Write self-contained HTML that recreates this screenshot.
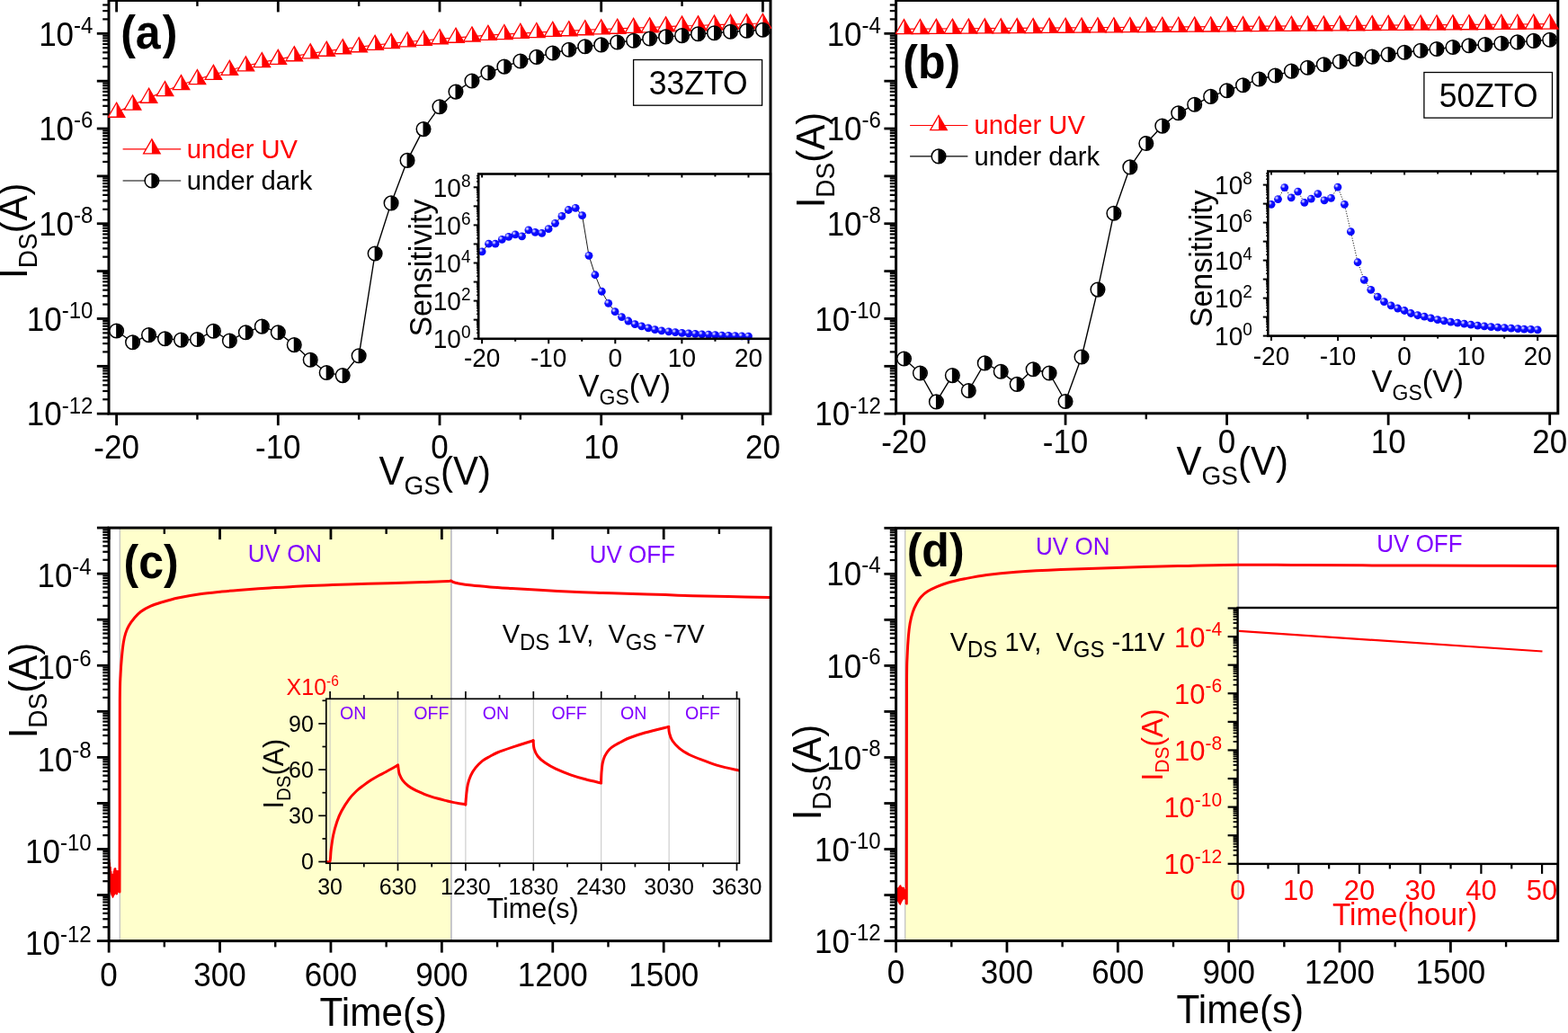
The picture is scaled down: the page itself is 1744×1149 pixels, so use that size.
<!DOCTYPE html><html><head><meta charset="utf-8"><title>Figure</title><style>html,body{margin:0;padding:0;background:#fff;}svg{display:block;font-family:"Liberation Sans",Arial,Helvetica,sans-serif;}</style></head><body>
<svg width="1744" height="1149" viewBox="0 0 1744 1149">
<defs><radialGradient id="bg" cx="0.33" cy="0.33" r="0.85"><stop offset="0" stop-color="#e4e4ff"/><stop offset="0.14" stop-color="#a0a0ff"/><stop offset="0.32" stop-color="#1010ff"/><stop offset="1" stop-color="#0000f8"/></radialGradient><clipPath id="clipA"><rect x="120" y="0" width="738" height="461"/></clipPath><clipPath id="clipB"><rect x="996" y="0" width="738" height="461"/></clipPath><clipPath id="clipC"><rect x="120" y="586" width="738" height="461"/></clipPath><clipPath id="clipD"><rect x="996" y="586" width="738" height="461"/></clipPath></defs>
<rect width="1744" height="1149" fill="#fff"/>
<rect x="121" y="0.4" width="736" height="459.8" fill="none" stroke="#000" stroke-width="3"/>
<line x1="121" y1="460.18" x2="107.8" y2="460.18" stroke="#000" stroke-width="2.8"/>
<line x1="121" y1="444.27" x2="114.2" y2="444.27" stroke="#000" stroke-width="2.2"/>
<line x1="121" y1="434.96" x2="114.2" y2="434.96" stroke="#000" stroke-width="2.2"/>
<line x1="121" y1="428.36" x2="114.2" y2="428.36" stroke="#000" stroke-width="2.2"/>
<line x1="121" y1="423.23" x2="114.2" y2="423.23" stroke="#000" stroke-width="2.2"/>
<line x1="121" y1="419.05" x2="114.2" y2="419.05" stroke="#000" stroke-width="2.2"/>
<line x1="121" y1="415.51" x2="114.2" y2="415.51" stroke="#000" stroke-width="2.2"/>
<line x1="121" y1="412.44" x2="114.2" y2="412.44" stroke="#000" stroke-width="2.2"/>
<line x1="121" y1="409.74" x2="114.2" y2="409.74" stroke="#000" stroke-width="2.2"/>
<line x1="121" y1="407.32" x2="107.8" y2="407.32" stroke="#000" stroke-width="2.8"/>
<line x1="121" y1="391.41" x2="114.2" y2="391.41" stroke="#000" stroke-width="2.2"/>
<line x1="121" y1="382.1" x2="114.2" y2="382.1" stroke="#000" stroke-width="2.2"/>
<line x1="121" y1="375.5" x2="114.2" y2="375.5" stroke="#000" stroke-width="2.2"/>
<line x1="121" y1="370.37" x2="114.2" y2="370.37" stroke="#000" stroke-width="2.2"/>
<line x1="121" y1="366.19" x2="114.2" y2="366.19" stroke="#000" stroke-width="2.2"/>
<line x1="121" y1="362.65" x2="114.2" y2="362.65" stroke="#000" stroke-width="2.2"/>
<line x1="121" y1="359.58" x2="114.2" y2="359.58" stroke="#000" stroke-width="2.2"/>
<line x1="121" y1="356.88" x2="114.2" y2="356.88" stroke="#000" stroke-width="2.2"/>
<line x1="121" y1="354.46" x2="107.8" y2="354.46" stroke="#000" stroke-width="2.8"/>
<line x1="121" y1="338.55" x2="114.2" y2="338.55" stroke="#000" stroke-width="2.2"/>
<line x1="121" y1="329.24" x2="114.2" y2="329.24" stroke="#000" stroke-width="2.2"/>
<line x1="121" y1="322.64" x2="114.2" y2="322.64" stroke="#000" stroke-width="2.2"/>
<line x1="121" y1="317.51" x2="114.2" y2="317.51" stroke="#000" stroke-width="2.2"/>
<line x1="121" y1="313.33" x2="114.2" y2="313.33" stroke="#000" stroke-width="2.2"/>
<line x1="121" y1="309.79" x2="114.2" y2="309.79" stroke="#000" stroke-width="2.2"/>
<line x1="121" y1="306.72" x2="114.2" y2="306.72" stroke="#000" stroke-width="2.2"/>
<line x1="121" y1="304.02" x2="114.2" y2="304.02" stroke="#000" stroke-width="2.2"/>
<line x1="121" y1="301.6" x2="107.8" y2="301.6" stroke="#000" stroke-width="2.8"/>
<line x1="121" y1="285.69" x2="114.2" y2="285.69" stroke="#000" stroke-width="2.2"/>
<line x1="121" y1="276.38" x2="114.2" y2="276.38" stroke="#000" stroke-width="2.2"/>
<line x1="121" y1="269.78" x2="114.2" y2="269.78" stroke="#000" stroke-width="2.2"/>
<line x1="121" y1="264.65" x2="114.2" y2="264.65" stroke="#000" stroke-width="2.2"/>
<line x1="121" y1="260.47" x2="114.2" y2="260.47" stroke="#000" stroke-width="2.2"/>
<line x1="121" y1="256.93" x2="114.2" y2="256.93" stroke="#000" stroke-width="2.2"/>
<line x1="121" y1="253.86" x2="114.2" y2="253.86" stroke="#000" stroke-width="2.2"/>
<line x1="121" y1="251.16" x2="114.2" y2="251.16" stroke="#000" stroke-width="2.2"/>
<line x1="121" y1="248.74" x2="107.8" y2="248.74" stroke="#000" stroke-width="2.8"/>
<line x1="121" y1="232.83" x2="114.2" y2="232.83" stroke="#000" stroke-width="2.2"/>
<line x1="121" y1="223.52" x2="114.2" y2="223.52" stroke="#000" stroke-width="2.2"/>
<line x1="121" y1="216.92" x2="114.2" y2="216.92" stroke="#000" stroke-width="2.2"/>
<line x1="121" y1="211.79" x2="114.2" y2="211.79" stroke="#000" stroke-width="2.2"/>
<line x1="121" y1="207.61" x2="114.2" y2="207.61" stroke="#000" stroke-width="2.2"/>
<line x1="121" y1="204.07" x2="114.2" y2="204.07" stroke="#000" stroke-width="2.2"/>
<line x1="121" y1="201" x2="114.2" y2="201" stroke="#000" stroke-width="2.2"/>
<line x1="121" y1="198.3" x2="114.2" y2="198.3" stroke="#000" stroke-width="2.2"/>
<line x1="121" y1="195.88" x2="107.8" y2="195.88" stroke="#000" stroke-width="2.8"/>
<line x1="121" y1="179.97" x2="114.2" y2="179.97" stroke="#000" stroke-width="2.2"/>
<line x1="121" y1="170.66" x2="114.2" y2="170.66" stroke="#000" stroke-width="2.2"/>
<line x1="121" y1="164.06" x2="114.2" y2="164.06" stroke="#000" stroke-width="2.2"/>
<line x1="121" y1="158.93" x2="114.2" y2="158.93" stroke="#000" stroke-width="2.2"/>
<line x1="121" y1="154.75" x2="114.2" y2="154.75" stroke="#000" stroke-width="2.2"/>
<line x1="121" y1="151.21" x2="114.2" y2="151.21" stroke="#000" stroke-width="2.2"/>
<line x1="121" y1="148.14" x2="114.2" y2="148.14" stroke="#000" stroke-width="2.2"/>
<line x1="121" y1="145.44" x2="114.2" y2="145.44" stroke="#000" stroke-width="2.2"/>
<line x1="121" y1="143.02" x2="107.8" y2="143.02" stroke="#000" stroke-width="2.8"/>
<line x1="121" y1="127.11" x2="114.2" y2="127.11" stroke="#000" stroke-width="2.2"/>
<line x1="121" y1="117.8" x2="114.2" y2="117.8" stroke="#000" stroke-width="2.2"/>
<line x1="121" y1="111.2" x2="114.2" y2="111.2" stroke="#000" stroke-width="2.2"/>
<line x1="121" y1="106.07" x2="114.2" y2="106.07" stroke="#000" stroke-width="2.2"/>
<line x1="121" y1="101.89" x2="114.2" y2="101.89" stroke="#000" stroke-width="2.2"/>
<line x1="121" y1="98.35" x2="114.2" y2="98.35" stroke="#000" stroke-width="2.2"/>
<line x1="121" y1="95.28" x2="114.2" y2="95.28" stroke="#000" stroke-width="2.2"/>
<line x1="121" y1="92.58" x2="114.2" y2="92.58" stroke="#000" stroke-width="2.2"/>
<line x1="121" y1="90.16" x2="107.8" y2="90.16" stroke="#000" stroke-width="2.8"/>
<line x1="121" y1="74.25" x2="114.2" y2="74.25" stroke="#000" stroke-width="2.2"/>
<line x1="121" y1="64.94" x2="114.2" y2="64.94" stroke="#000" stroke-width="2.2"/>
<line x1="121" y1="58.34" x2="114.2" y2="58.34" stroke="#000" stroke-width="2.2"/>
<line x1="121" y1="53.21" x2="114.2" y2="53.21" stroke="#000" stroke-width="2.2"/>
<line x1="121" y1="49.03" x2="114.2" y2="49.03" stroke="#000" stroke-width="2.2"/>
<line x1="121" y1="45.49" x2="114.2" y2="45.49" stroke="#000" stroke-width="2.2"/>
<line x1="121" y1="42.42" x2="114.2" y2="42.42" stroke="#000" stroke-width="2.2"/>
<line x1="121" y1="39.72" x2="114.2" y2="39.72" stroke="#000" stroke-width="2.2"/>
<line x1="121" y1="37.3" x2="107.8" y2="37.3" stroke="#000" stroke-width="2.8"/>
<line x1="121" y1="21.39" x2="114.2" y2="21.39" stroke="#000" stroke-width="2.2"/>
<line x1="121" y1="12.08" x2="114.2" y2="12.08" stroke="#000" stroke-width="2.2"/>
<line x1="121" y1="5.48" x2="114.2" y2="5.48" stroke="#000" stroke-width="2.2"/>
<text transform="translate(103.4 473.38) scale(1 1.04)" font-size="35" fill="#000" text-anchor="end">10<tspan dy="-13.27" font-size="24">-12</tspan></text>
<text transform="translate(103.4 367.66) scale(1 1.04)" font-size="35" fill="#000" text-anchor="end">10<tspan dy="-13.27" font-size="24">-10</tspan></text>
<text transform="translate(103.4 261.94) scale(1 1.04)" font-size="35" fill="#000" text-anchor="end">10<tspan dy="-13.27" font-size="24">-8</tspan></text>
<text transform="translate(103.4 156.22) scale(1 1.04)" font-size="35" fill="#000" text-anchor="end">10<tspan dy="-13.27" font-size="24">-6</tspan></text>
<text transform="translate(103.4 50.5) scale(1 1.04)" font-size="35" fill="#000" text-anchor="end">10<tspan dy="-13.27" font-size="24">-4</tspan></text>
<line x1="129.6" y1="460.2" x2="129.6" y2="473.2" stroke="#000" stroke-width="2.8"/>
<line x1="129.6" y1="0.4" x2="129.6" y2="13.4" stroke="#000" stroke-width="2.8"/>
<text transform="translate(129.6 509.5) scale(1 1.04)" font-size="35" fill="#000" text-anchor="middle" font-weight="normal">-20</text>
<line x1="219.45" y1="460.2" x2="219.45" y2="466.7" stroke="#000" stroke-width="2.4"/>
<line x1="219.45" y1="0.4" x2="219.45" y2="6.9" stroke="#000" stroke-width="2.4"/>
<line x1="309.3" y1="460.2" x2="309.3" y2="473.2" stroke="#000" stroke-width="2.8"/>
<line x1="309.3" y1="0.4" x2="309.3" y2="13.4" stroke="#000" stroke-width="2.8"/>
<text transform="translate(309.3 509.5) scale(1 1.04)" font-size="35" fill="#000" text-anchor="middle" font-weight="normal">-10</text>
<line x1="399.15" y1="460.2" x2="399.15" y2="466.7" stroke="#000" stroke-width="2.4"/>
<line x1="399.15" y1="0.4" x2="399.15" y2="6.9" stroke="#000" stroke-width="2.4"/>
<line x1="489" y1="460.2" x2="489" y2="473.2" stroke="#000" stroke-width="2.8"/>
<line x1="489" y1="0.4" x2="489" y2="13.4" stroke="#000" stroke-width="2.8"/>
<text transform="translate(489 509.5) scale(1 1.04)" font-size="35" fill="#000" text-anchor="middle" font-weight="normal">0</text>
<line x1="578.85" y1="460.2" x2="578.85" y2="466.7" stroke="#000" stroke-width="2.4"/>
<line x1="578.85" y1="0.4" x2="578.85" y2="6.9" stroke="#000" stroke-width="2.4"/>
<line x1="668.7" y1="460.2" x2="668.7" y2="473.2" stroke="#000" stroke-width="2.8"/>
<line x1="668.7" y1="0.4" x2="668.7" y2="13.4" stroke="#000" stroke-width="2.8"/>
<text transform="translate(668.7 509.5) scale(1 1.04)" font-size="35" fill="#000" text-anchor="middle" font-weight="normal">10</text>
<line x1="758.55" y1="460.2" x2="758.55" y2="466.7" stroke="#000" stroke-width="2.4"/>
<line x1="758.55" y1="0.4" x2="758.55" y2="6.9" stroke="#000" stroke-width="2.4"/>
<line x1="848.4" y1="460.2" x2="848.4" y2="473.2" stroke="#000" stroke-width="2.8"/>
<line x1="848.4" y1="0.4" x2="848.4" y2="13.4" stroke="#000" stroke-width="2.8"/>
<text transform="translate(848.4 509.5) scale(1 1.04)" font-size="35" fill="#000" text-anchor="middle" font-weight="normal">20</text>
<text transform="translate(421.5 538.8) scale(1 1.04)" font-size="42" fill="#000" text-anchor="start"><tspan dy="0" font-size="42">V</tspan><tspan dy="10.29" font-size="28">GS</tspan><tspan dy="-10.29" font-size="42">(V)</tspan></text>
<text transform="translate(30.3 309.9) rotate(-90) scale(1 1.04)" font-size="42" fill="#000" text-anchor="start"><tspan dy="0" font-size="42">I</tspan><tspan dy="10.58" font-size="28">DS</tspan><tspan dy="-10.58" font-size="42">(A)</tspan></text>
<g clip-path="url(#clipA)">
<path d="M129.6,124.9 L147.57,116.7 L165.54,108.9 L183.51,101.2 L201.48,94.3 L219.45,88.2 L237.42,83 L255.39,78 L273.36,73.5 L291.33,69.2 L309.3,66.1 L327.27,62.4 L345.24,59.5 L363.21,56.9 L381.18,54.4 L399.15,52.4 L417.12,50 L435.09,48.3 L453.06,46.5 L471.03,45 L489,43.4 L506.97,41.9 L524.94,40.65 L542.91,39.1 L560.88,38.2 L578.85,37.1 L596.82,36.2 L614.79,35.1 L632.76,34.4 L650.73,33.4 L668.7,32.5 L686.67,31.9 L704.64,31.1 L722.61,30.5 L740.58,29.6 L758.55,28.8 L776.52,28.5 L794.49,27.7 L812.46,27.1 L830.43,26.5 L848.4,26" fill="none" stroke="#ff0000" stroke-width="1.2" stroke-linejoin="round"/>
<path d="M129.6,114.2 L138.87,130.25 L120.33,130.25 Z" fill="#fff" stroke="#ff0000" stroke-width="1.3" stroke-linejoin="miter"/>
<path d="M129.6,114.2 L138.87,130.25 L129.6,130.25 Z" fill="#ff0000"/>
<path d="M147.57,106 L156.84,122.05 L138.3,122.05 Z" fill="#fff" stroke="#ff0000" stroke-width="1.3" stroke-linejoin="miter"/>
<path d="M147.57,106 L156.84,122.05 L147.57,122.05 Z" fill="#ff0000"/>
<path d="M165.54,98.2 L174.81,114.25 L156.27,114.25 Z" fill="#fff" stroke="#ff0000" stroke-width="1.3" stroke-linejoin="miter"/>
<path d="M165.54,98.2 L174.81,114.25 L165.54,114.25 Z" fill="#ff0000"/>
<path d="M183.51,90.5 L192.78,106.55 L174.24,106.55 Z" fill="#fff" stroke="#ff0000" stroke-width="1.3" stroke-linejoin="miter"/>
<path d="M183.51,90.5 L192.78,106.55 L183.51,106.55 Z" fill="#ff0000"/>
<path d="M201.48,83.6 L210.75,99.65 L192.21,99.65 Z" fill="#fff" stroke="#ff0000" stroke-width="1.3" stroke-linejoin="miter"/>
<path d="M201.48,83.6 L210.75,99.65 L201.48,99.65 Z" fill="#ff0000"/>
<path d="M219.45,77.5 L228.72,93.55 L210.18,93.55 Z" fill="#fff" stroke="#ff0000" stroke-width="1.3" stroke-linejoin="miter"/>
<path d="M219.45,77.5 L228.72,93.55 L219.45,93.55 Z" fill="#ff0000"/>
<path d="M237.42,72.3 L246.69,88.35 L228.15,88.35 Z" fill="#fff" stroke="#ff0000" stroke-width="1.3" stroke-linejoin="miter"/>
<path d="M237.42,72.3 L246.69,88.35 L237.42,88.35 Z" fill="#ff0000"/>
<path d="M255.39,67.3 L264.66,83.35 L246.12,83.35 Z" fill="#fff" stroke="#ff0000" stroke-width="1.3" stroke-linejoin="miter"/>
<path d="M255.39,67.3 L264.66,83.35 L255.39,83.35 Z" fill="#ff0000"/>
<path d="M273.36,62.8 L282.63,78.85 L264.09,78.85 Z" fill="#fff" stroke="#ff0000" stroke-width="1.3" stroke-linejoin="miter"/>
<path d="M273.36,62.8 L282.63,78.85 L273.36,78.85 Z" fill="#ff0000"/>
<path d="M291.33,58.5 L300.6,74.55 L282.06,74.55 Z" fill="#fff" stroke="#ff0000" stroke-width="1.3" stroke-linejoin="miter"/>
<path d="M291.33,58.5 L300.6,74.55 L291.33,74.55 Z" fill="#ff0000"/>
<path d="M309.3,55.4 L318.57,71.45 L300.03,71.45 Z" fill="#fff" stroke="#ff0000" stroke-width="1.3" stroke-linejoin="miter"/>
<path d="M309.3,55.4 L318.57,71.45 L309.3,71.45 Z" fill="#ff0000"/>
<path d="M327.27,51.7 L336.54,67.75 L318,67.75 Z" fill="#fff" stroke="#ff0000" stroke-width="1.3" stroke-linejoin="miter"/>
<path d="M327.27,51.7 L336.54,67.75 L327.27,67.75 Z" fill="#ff0000"/>
<path d="M345.24,48.8 L354.51,64.85 L335.97,64.85 Z" fill="#fff" stroke="#ff0000" stroke-width="1.3" stroke-linejoin="miter"/>
<path d="M345.24,48.8 L354.51,64.85 L345.24,64.85 Z" fill="#ff0000"/>
<path d="M363.21,46.2 L372.48,62.25 L353.94,62.25 Z" fill="#fff" stroke="#ff0000" stroke-width="1.3" stroke-linejoin="miter"/>
<path d="M363.21,46.2 L372.48,62.25 L363.21,62.25 Z" fill="#ff0000"/>
<path d="M381.18,43.7 L390.45,59.75 L371.91,59.75 Z" fill="#fff" stroke="#ff0000" stroke-width="1.3" stroke-linejoin="miter"/>
<path d="M381.18,43.7 L390.45,59.75 L381.18,59.75 Z" fill="#ff0000"/>
<path d="M399.15,41.7 L408.42,57.75 L389.88,57.75 Z" fill="#fff" stroke="#ff0000" stroke-width="1.3" stroke-linejoin="miter"/>
<path d="M399.15,41.7 L408.42,57.75 L399.15,57.75 Z" fill="#ff0000"/>
<path d="M417.12,39.3 L426.39,55.35 L407.85,55.35 Z" fill="#fff" stroke="#ff0000" stroke-width="1.3" stroke-linejoin="miter"/>
<path d="M417.12,39.3 L426.39,55.35 L417.12,55.35 Z" fill="#ff0000"/>
<path d="M435.09,37.6 L444.36,53.65 L425.82,53.65 Z" fill="#fff" stroke="#ff0000" stroke-width="1.3" stroke-linejoin="miter"/>
<path d="M435.09,37.6 L444.36,53.65 L435.09,53.65 Z" fill="#ff0000"/>
<path d="M453.06,35.8 L462.33,51.85 L443.79,51.85 Z" fill="#fff" stroke="#ff0000" stroke-width="1.3" stroke-linejoin="miter"/>
<path d="M453.06,35.8 L462.33,51.85 L453.06,51.85 Z" fill="#ff0000"/>
<path d="M471.03,34.3 L480.3,50.35 L461.76,50.35 Z" fill="#fff" stroke="#ff0000" stroke-width="1.3" stroke-linejoin="miter"/>
<path d="M471.03,34.3 L480.3,50.35 L471.03,50.35 Z" fill="#ff0000"/>
<path d="M489,32.7 L498.27,48.75 L479.73,48.75 Z" fill="#fff" stroke="#ff0000" stroke-width="1.3" stroke-linejoin="miter"/>
<path d="M489,32.7 L498.27,48.75 L489,48.75 Z" fill="#ff0000"/>
<path d="M506.97,31.2 L516.24,47.25 L497.7,47.25 Z" fill="#fff" stroke="#ff0000" stroke-width="1.3" stroke-linejoin="miter"/>
<path d="M506.97,31.2 L516.24,47.25 L506.97,47.25 Z" fill="#ff0000"/>
<path d="M524.94,29.95 L534.21,46 L515.67,46 Z" fill="#fff" stroke="#ff0000" stroke-width="1.3" stroke-linejoin="miter"/>
<path d="M524.94,29.95 L534.21,46 L524.94,46 Z" fill="#ff0000"/>
<path d="M542.91,28.4 L552.18,44.45 L533.64,44.45 Z" fill="#fff" stroke="#ff0000" stroke-width="1.3" stroke-linejoin="miter"/>
<path d="M542.91,28.4 L552.18,44.45 L542.91,44.45 Z" fill="#ff0000"/>
<path d="M560.88,27.5 L570.15,43.55 L551.61,43.55 Z" fill="#fff" stroke="#ff0000" stroke-width="1.3" stroke-linejoin="miter"/>
<path d="M560.88,27.5 L570.15,43.55 L560.88,43.55 Z" fill="#ff0000"/>
<path d="M578.85,26.4 L588.12,42.45 L569.58,42.45 Z" fill="#fff" stroke="#ff0000" stroke-width="1.3" stroke-linejoin="miter"/>
<path d="M578.85,26.4 L588.12,42.45 L578.85,42.45 Z" fill="#ff0000"/>
<path d="M596.82,25.5 L606.09,41.55 L587.55,41.55 Z" fill="#fff" stroke="#ff0000" stroke-width="1.3" stroke-linejoin="miter"/>
<path d="M596.82,25.5 L606.09,41.55 L596.82,41.55 Z" fill="#ff0000"/>
<path d="M614.79,24.4 L624.06,40.45 L605.52,40.45 Z" fill="#fff" stroke="#ff0000" stroke-width="1.3" stroke-linejoin="miter"/>
<path d="M614.79,24.4 L624.06,40.45 L614.79,40.45 Z" fill="#ff0000"/>
<path d="M632.76,23.7 L642.03,39.75 L623.49,39.75 Z" fill="#fff" stroke="#ff0000" stroke-width="1.3" stroke-linejoin="miter"/>
<path d="M632.76,23.7 L642.03,39.75 L632.76,39.75 Z" fill="#ff0000"/>
<path d="M650.73,22.7 L660,38.75 L641.46,38.75 Z" fill="#fff" stroke="#ff0000" stroke-width="1.3" stroke-linejoin="miter"/>
<path d="M650.73,22.7 L660,38.75 L650.73,38.75 Z" fill="#ff0000"/>
<path d="M668.7,21.8 L677.97,37.85 L659.43,37.85 Z" fill="#fff" stroke="#ff0000" stroke-width="1.3" stroke-linejoin="miter"/>
<path d="M668.7,21.8 L677.97,37.85 L668.7,37.85 Z" fill="#ff0000"/>
<path d="M686.67,21.2 L695.94,37.25 L677.4,37.25 Z" fill="#fff" stroke="#ff0000" stroke-width="1.3" stroke-linejoin="miter"/>
<path d="M686.67,21.2 L695.94,37.25 L686.67,37.25 Z" fill="#ff0000"/>
<path d="M704.64,20.4 L713.91,36.45 L695.37,36.45 Z" fill="#fff" stroke="#ff0000" stroke-width="1.3" stroke-linejoin="miter"/>
<path d="M704.64,20.4 L713.91,36.45 L704.64,36.45 Z" fill="#ff0000"/>
<path d="M722.61,19.8 L731.88,35.85 L713.34,35.85 Z" fill="#fff" stroke="#ff0000" stroke-width="1.3" stroke-linejoin="miter"/>
<path d="M722.61,19.8 L731.88,35.85 L722.61,35.85 Z" fill="#ff0000"/>
<path d="M740.58,18.9 L749.85,34.95 L731.31,34.95 Z" fill="#fff" stroke="#ff0000" stroke-width="1.3" stroke-linejoin="miter"/>
<path d="M740.58,18.9 L749.85,34.95 L740.58,34.95 Z" fill="#ff0000"/>
<path d="M758.55,18.1 L767.82,34.15 L749.28,34.15 Z" fill="#fff" stroke="#ff0000" stroke-width="1.3" stroke-linejoin="miter"/>
<path d="M758.55,18.1 L767.82,34.15 L758.55,34.15 Z" fill="#ff0000"/>
<path d="M776.52,17.8 L785.79,33.85 L767.25,33.85 Z" fill="#fff" stroke="#ff0000" stroke-width="1.3" stroke-linejoin="miter"/>
<path d="M776.52,17.8 L785.79,33.85 L776.52,33.85 Z" fill="#ff0000"/>
<path d="M794.49,17 L803.76,33.05 L785.22,33.05 Z" fill="#fff" stroke="#ff0000" stroke-width="1.3" stroke-linejoin="miter"/>
<path d="M794.49,17 L803.76,33.05 L794.49,33.05 Z" fill="#ff0000"/>
<path d="M812.46,16.4 L821.73,32.45 L803.19,32.45 Z" fill="#fff" stroke="#ff0000" stroke-width="1.3" stroke-linejoin="miter"/>
<path d="M812.46,16.4 L821.73,32.45 L812.46,32.45 Z" fill="#ff0000"/>
<path d="M830.43,15.8 L839.7,31.85 L821.16,31.85 Z" fill="#fff" stroke="#ff0000" stroke-width="1.3" stroke-linejoin="miter"/>
<path d="M830.43,15.8 L839.7,31.85 L830.43,31.85 Z" fill="#ff0000"/>
<path d="M848.4,15.3 L857.67,31.35 L839.13,31.35 Z" fill="#fff" stroke="#ff0000" stroke-width="1.3" stroke-linejoin="miter"/>
<path d="M848.4,15.3 L857.67,31.35 L848.4,31.35 Z" fill="#ff0000"/>
<path d="M129.6,368 L147.57,380.8 L165.54,372.6 L183.51,376.8 L201.48,378.1 L219.45,377.5 L237.42,368.2 L255.39,379 L273.36,369.7 L291.33,363.1 L309.3,369.7 L327.27,383.6 L345.24,400.2 L363.21,414.5 L381.18,417.6 L399.15,395.8 L417.12,282 L435.09,225.9 L453.06,178.4 L471.03,143.6 L489,118.7 L506.97,102.1 L524.94,90 L542.91,80.9 L560.88,74.1 L578.85,68 L596.82,63.4 L614.79,59 L632.76,55.3 L650.73,51.8 L668.7,49.9 L686.67,47 L704.64,45.3 L722.61,43 L740.58,40.9 L758.55,39.6 L776.52,37.8 L794.49,36.7 L812.46,35.3 L830.43,34.2 L848.4,33.3" fill="none" stroke="#000" stroke-width="1.4" stroke-linejoin="round"/>
<circle cx="129.6" cy="368" r="7.8" fill="#fff" stroke="#000" stroke-width="1.5"/>
<path d="M129.1,360.2 A7.8,7.8 0 0 1 129.1,375.8 Z" fill="#000"/>
<circle cx="147.57" cy="380.8" r="7.8" fill="#fff" stroke="#000" stroke-width="1.5"/>
<path d="M147.07,373 A7.8,7.8 0 0 1 147.07,388.6 Z" fill="#000"/>
<circle cx="165.54" cy="372.6" r="7.8" fill="#fff" stroke="#000" stroke-width="1.5"/>
<path d="M165.04,364.8 A7.8,7.8 0 0 1 165.04,380.4 Z" fill="#000"/>
<circle cx="183.51" cy="376.8" r="7.8" fill="#fff" stroke="#000" stroke-width="1.5"/>
<path d="M183.01,369 A7.8,7.8 0 0 1 183.01,384.6 Z" fill="#000"/>
<circle cx="201.48" cy="378.1" r="7.8" fill="#fff" stroke="#000" stroke-width="1.5"/>
<path d="M200.98,370.3 A7.8,7.8 0 0 1 200.98,385.9 Z" fill="#000"/>
<circle cx="219.45" cy="377.5" r="7.8" fill="#fff" stroke="#000" stroke-width="1.5"/>
<path d="M218.95,369.7 A7.8,7.8 0 0 1 218.95,385.3 Z" fill="#000"/>
<circle cx="237.42" cy="368.2" r="7.8" fill="#fff" stroke="#000" stroke-width="1.5"/>
<path d="M236.92,360.4 A7.8,7.8 0 0 1 236.92,376 Z" fill="#000"/>
<circle cx="255.39" cy="379" r="7.8" fill="#fff" stroke="#000" stroke-width="1.5"/>
<path d="M254.89,371.2 A7.8,7.8 0 0 1 254.89,386.8 Z" fill="#000"/>
<circle cx="273.36" cy="369.7" r="7.8" fill="#fff" stroke="#000" stroke-width="1.5"/>
<path d="M272.86,361.9 A7.8,7.8 0 0 1 272.86,377.5 Z" fill="#000"/>
<circle cx="291.33" cy="363.1" r="7.8" fill="#fff" stroke="#000" stroke-width="1.5"/>
<path d="M290.83,355.3 A7.8,7.8 0 0 1 290.83,370.9 Z" fill="#000"/>
<circle cx="309.3" cy="369.7" r="7.8" fill="#fff" stroke="#000" stroke-width="1.5"/>
<path d="M308.8,361.9 A7.8,7.8 0 0 1 308.8,377.5 Z" fill="#000"/>
<circle cx="327.27" cy="383.6" r="7.8" fill="#fff" stroke="#000" stroke-width="1.5"/>
<path d="M326.77,375.8 A7.8,7.8 0 0 1 326.77,391.4 Z" fill="#000"/>
<circle cx="345.24" cy="400.2" r="7.8" fill="#fff" stroke="#000" stroke-width="1.5"/>
<path d="M344.74,392.4 A7.8,7.8 0 0 1 344.74,408 Z" fill="#000"/>
<circle cx="363.21" cy="414.5" r="7.8" fill="#fff" stroke="#000" stroke-width="1.5"/>
<path d="M362.71,406.7 A7.8,7.8 0 0 1 362.71,422.3 Z" fill="#000"/>
<circle cx="381.18" cy="417.6" r="7.8" fill="#fff" stroke="#000" stroke-width="1.5"/>
<path d="M380.68,409.8 A7.8,7.8 0 0 1 380.68,425.4 Z" fill="#000"/>
<circle cx="399.15" cy="395.8" r="7.8" fill="#fff" stroke="#000" stroke-width="1.5"/>
<path d="M398.65,388 A7.8,7.8 0 0 1 398.65,403.6 Z" fill="#000"/>
<circle cx="417.12" cy="282" r="7.8" fill="#fff" stroke="#000" stroke-width="1.5"/>
<path d="M416.62,274.2 A7.8,7.8 0 0 1 416.62,289.8 Z" fill="#000"/>
<circle cx="435.09" cy="225.9" r="7.8" fill="#fff" stroke="#000" stroke-width="1.5"/>
<path d="M434.59,218.1 A7.8,7.8 0 0 1 434.59,233.7 Z" fill="#000"/>
<circle cx="453.06" cy="178.4" r="7.8" fill="#fff" stroke="#000" stroke-width="1.5"/>
<path d="M452.56,170.6 A7.8,7.8 0 0 1 452.56,186.2 Z" fill="#000"/>
<circle cx="471.03" cy="143.6" r="7.8" fill="#fff" stroke="#000" stroke-width="1.5"/>
<path d="M470.53,135.8 A7.8,7.8 0 0 1 470.53,151.4 Z" fill="#000"/>
<circle cx="489" cy="118.7" r="7.8" fill="#fff" stroke="#000" stroke-width="1.5"/>
<path d="M488.5,110.9 A7.8,7.8 0 0 1 488.5,126.5 Z" fill="#000"/>
<circle cx="506.97" cy="102.1" r="7.8" fill="#fff" stroke="#000" stroke-width="1.5"/>
<path d="M506.47,94.3 A7.8,7.8 0 0 1 506.47,109.9 Z" fill="#000"/>
<circle cx="524.94" cy="90" r="7.8" fill="#fff" stroke="#000" stroke-width="1.5"/>
<path d="M524.44,82.2 A7.8,7.8 0 0 1 524.44,97.8 Z" fill="#000"/>
<circle cx="542.91" cy="80.9" r="7.8" fill="#fff" stroke="#000" stroke-width="1.5"/>
<path d="M542.41,73.1 A7.8,7.8 0 0 1 542.41,88.7 Z" fill="#000"/>
<circle cx="560.88" cy="74.1" r="7.8" fill="#fff" stroke="#000" stroke-width="1.5"/>
<path d="M560.38,66.3 A7.8,7.8 0 0 1 560.38,81.9 Z" fill="#000"/>
<circle cx="578.85" cy="68" r="7.8" fill="#fff" stroke="#000" stroke-width="1.5"/>
<path d="M578.35,60.2 A7.8,7.8 0 0 1 578.35,75.8 Z" fill="#000"/>
<circle cx="596.82" cy="63.4" r="7.8" fill="#fff" stroke="#000" stroke-width="1.5"/>
<path d="M596.32,55.6 A7.8,7.8 0 0 1 596.32,71.2 Z" fill="#000"/>
<circle cx="614.79" cy="59" r="7.8" fill="#fff" stroke="#000" stroke-width="1.5"/>
<path d="M614.29,51.2 A7.8,7.8 0 0 1 614.29,66.8 Z" fill="#000"/>
<circle cx="632.76" cy="55.3" r="7.8" fill="#fff" stroke="#000" stroke-width="1.5"/>
<path d="M632.26,47.5 A7.8,7.8 0 0 1 632.26,63.1 Z" fill="#000"/>
<circle cx="650.73" cy="51.8" r="7.8" fill="#fff" stroke="#000" stroke-width="1.5"/>
<path d="M650.23,44 A7.8,7.8 0 0 1 650.23,59.6 Z" fill="#000"/>
<circle cx="668.7" cy="49.9" r="7.8" fill="#fff" stroke="#000" stroke-width="1.5"/>
<path d="M668.2,42.1 A7.8,7.8 0 0 1 668.2,57.7 Z" fill="#000"/>
<circle cx="686.67" cy="47" r="7.8" fill="#fff" stroke="#000" stroke-width="1.5"/>
<path d="M686.17,39.2 A7.8,7.8 0 0 1 686.17,54.8 Z" fill="#000"/>
<circle cx="704.64" cy="45.3" r="7.8" fill="#fff" stroke="#000" stroke-width="1.5"/>
<path d="M704.14,37.5 A7.8,7.8 0 0 1 704.14,53.1 Z" fill="#000"/>
<circle cx="722.61" cy="43" r="7.8" fill="#fff" stroke="#000" stroke-width="1.5"/>
<path d="M722.11,35.2 A7.8,7.8 0 0 1 722.11,50.8 Z" fill="#000"/>
<circle cx="740.58" cy="40.9" r="7.8" fill="#fff" stroke="#000" stroke-width="1.5"/>
<path d="M740.08,33.1 A7.8,7.8 0 0 1 740.08,48.7 Z" fill="#000"/>
<circle cx="758.55" cy="39.6" r="7.8" fill="#fff" stroke="#000" stroke-width="1.5"/>
<path d="M758.05,31.8 A7.8,7.8 0 0 1 758.05,47.4 Z" fill="#000"/>
<circle cx="776.52" cy="37.8" r="7.8" fill="#fff" stroke="#000" stroke-width="1.5"/>
<path d="M776.02,30 A7.8,7.8 0 0 1 776.02,45.6 Z" fill="#000"/>
<circle cx="794.49" cy="36.7" r="7.8" fill="#fff" stroke="#000" stroke-width="1.5"/>
<path d="M793.99,28.9 A7.8,7.8 0 0 1 793.99,44.5 Z" fill="#000"/>
<circle cx="812.46" cy="35.3" r="7.8" fill="#fff" stroke="#000" stroke-width="1.5"/>
<path d="M811.96,27.5 A7.8,7.8 0 0 1 811.96,43.1 Z" fill="#000"/>
<circle cx="830.43" cy="34.2" r="7.8" fill="#fff" stroke="#000" stroke-width="1.5"/>
<path d="M829.93,26.4 A7.8,7.8 0 0 1 829.93,42 Z" fill="#000"/>
<circle cx="848.4" cy="33.3" r="7.8" fill="#fff" stroke="#000" stroke-width="1.5"/>
<path d="M847.9,25.5 A7.8,7.8 0 0 1 847.9,41.1 Z" fill="#000"/>
</g>
<line x1="136.6" y1="165.8" x2="201.2" y2="165.8" stroke="#ff0000" stroke-width="1.2"/>
<path d="M168.9,154.9 L178.17,170.95 L159.63,170.95 Z" fill="#fff" stroke="#ff0000" stroke-width="1.3" stroke-linejoin="miter"/>
<path d="M168.9,154.9 L178.17,170.95 L168.9,170.95 Z" fill="#ff0000"/>
<text transform="translate(207.8 176.3) scale(1 1.04)" font-size="29.2" fill="#ff0000" text-anchor="start" font-weight="normal">under UV</text>
<line x1="136.6" y1="201" x2="201.2" y2="201" stroke="#000" stroke-width="1.2"/>
<circle cx="168.9" cy="201" r="7.8" fill="#fff" stroke="#000" stroke-width="1.5"/>
<path d="M168.4,193.2 A7.8,7.8 0 0 1 168.4,208.8 Z" fill="#000"/>
<text transform="translate(207.8 210.5) scale(1 1.04)" font-size="29.2" fill="#000" text-anchor="start" font-weight="normal">under dark</text>
<text transform="translate(134.2 53.5) scale(1 1.04)" font-size="50" fill="#000" text-anchor="start" font-weight="bold">(a<tspan dx="2.2">)</tspan></text>
<rect x="704.6" y="66.5" width="143" height="50.7" fill="#fff" stroke="#000" stroke-width="1.3"/>
<text transform="translate(721.8 104.6) scale(1 1.04)" font-size="35.5" fill="#000" text-anchor="start" font-weight="normal">33ZTO</text>
<rect x="532.2" y="193.5" width="324.7" height="183.3" fill="#fff" stroke="none"/>
<line x1="532.2" y1="376.7" x2="526.7" y2="376.7" stroke="#000" stroke-width="2"/>
<line x1="532.2" y1="370.36" x2="530" y2="370.36" stroke="#000" stroke-width="1.4"/>
<line x1="532.2" y1="366.66" x2="530" y2="366.66" stroke="#000" stroke-width="1.4"/>
<line x1="532.2" y1="364.03" x2="530" y2="364.03" stroke="#000" stroke-width="1.4"/>
<line x1="532.2" y1="361.99" x2="530" y2="361.99" stroke="#000" stroke-width="1.4"/>
<line x1="532.2" y1="360.32" x2="530" y2="360.32" stroke="#000" stroke-width="1.4"/>
<line x1="532.2" y1="358.91" x2="530" y2="358.91" stroke="#000" stroke-width="1.4"/>
<line x1="532.2" y1="357.69" x2="530" y2="357.69" stroke="#000" stroke-width="1.4"/>
<line x1="532.2" y1="356.61" x2="530" y2="356.61" stroke="#000" stroke-width="1.4"/>
<line x1="532.2" y1="355.65" x2="526.7" y2="355.65" stroke="#000" stroke-width="2"/>
<line x1="532.2" y1="349.31" x2="530" y2="349.31" stroke="#000" stroke-width="1.4"/>
<line x1="532.2" y1="345.61" x2="530" y2="345.61" stroke="#000" stroke-width="1.4"/>
<line x1="532.2" y1="342.98" x2="530" y2="342.98" stroke="#000" stroke-width="1.4"/>
<line x1="532.2" y1="340.94" x2="530" y2="340.94" stroke="#000" stroke-width="1.4"/>
<line x1="532.2" y1="339.27" x2="530" y2="339.27" stroke="#000" stroke-width="1.4"/>
<line x1="532.2" y1="337.86" x2="530" y2="337.86" stroke="#000" stroke-width="1.4"/>
<line x1="532.2" y1="336.64" x2="530" y2="336.64" stroke="#000" stroke-width="1.4"/>
<line x1="532.2" y1="335.56" x2="530" y2="335.56" stroke="#000" stroke-width="1.4"/>
<line x1="532.2" y1="334.6" x2="526.7" y2="334.6" stroke="#000" stroke-width="2"/>
<line x1="532.2" y1="328.26" x2="530" y2="328.26" stroke="#000" stroke-width="1.4"/>
<line x1="532.2" y1="324.56" x2="530" y2="324.56" stroke="#000" stroke-width="1.4"/>
<line x1="532.2" y1="321.93" x2="530" y2="321.93" stroke="#000" stroke-width="1.4"/>
<line x1="532.2" y1="319.89" x2="530" y2="319.89" stroke="#000" stroke-width="1.4"/>
<line x1="532.2" y1="318.22" x2="530" y2="318.22" stroke="#000" stroke-width="1.4"/>
<line x1="532.2" y1="316.81" x2="530" y2="316.81" stroke="#000" stroke-width="1.4"/>
<line x1="532.2" y1="315.59" x2="530" y2="315.59" stroke="#000" stroke-width="1.4"/>
<line x1="532.2" y1="314.51" x2="530" y2="314.51" stroke="#000" stroke-width="1.4"/>
<line x1="532.2" y1="313.55" x2="526.7" y2="313.55" stroke="#000" stroke-width="2"/>
<line x1="532.2" y1="307.21" x2="530" y2="307.21" stroke="#000" stroke-width="1.4"/>
<line x1="532.2" y1="303.51" x2="530" y2="303.51" stroke="#000" stroke-width="1.4"/>
<line x1="532.2" y1="300.88" x2="530" y2="300.88" stroke="#000" stroke-width="1.4"/>
<line x1="532.2" y1="298.84" x2="530" y2="298.84" stroke="#000" stroke-width="1.4"/>
<line x1="532.2" y1="297.17" x2="530" y2="297.17" stroke="#000" stroke-width="1.4"/>
<line x1="532.2" y1="295.76" x2="530" y2="295.76" stroke="#000" stroke-width="1.4"/>
<line x1="532.2" y1="294.54" x2="530" y2="294.54" stroke="#000" stroke-width="1.4"/>
<line x1="532.2" y1="293.46" x2="530" y2="293.46" stroke="#000" stroke-width="1.4"/>
<line x1="532.2" y1="292.5" x2="526.7" y2="292.5" stroke="#000" stroke-width="2"/>
<line x1="532.2" y1="286.16" x2="530" y2="286.16" stroke="#000" stroke-width="1.4"/>
<line x1="532.2" y1="282.46" x2="530" y2="282.46" stroke="#000" stroke-width="1.4"/>
<line x1="532.2" y1="279.83" x2="530" y2="279.83" stroke="#000" stroke-width="1.4"/>
<line x1="532.2" y1="277.79" x2="530" y2="277.79" stroke="#000" stroke-width="1.4"/>
<line x1="532.2" y1="276.12" x2="530" y2="276.12" stroke="#000" stroke-width="1.4"/>
<line x1="532.2" y1="274.71" x2="530" y2="274.71" stroke="#000" stroke-width="1.4"/>
<line x1="532.2" y1="273.49" x2="530" y2="273.49" stroke="#000" stroke-width="1.4"/>
<line x1="532.2" y1="272.41" x2="530" y2="272.41" stroke="#000" stroke-width="1.4"/>
<line x1="532.2" y1="271.45" x2="526.7" y2="271.45" stroke="#000" stroke-width="2"/>
<line x1="532.2" y1="265.11" x2="530" y2="265.11" stroke="#000" stroke-width="1.4"/>
<line x1="532.2" y1="261.41" x2="530" y2="261.41" stroke="#000" stroke-width="1.4"/>
<line x1="532.2" y1="258.78" x2="530" y2="258.78" stroke="#000" stroke-width="1.4"/>
<line x1="532.2" y1="256.74" x2="530" y2="256.74" stroke="#000" stroke-width="1.4"/>
<line x1="532.2" y1="255.07" x2="530" y2="255.07" stroke="#000" stroke-width="1.4"/>
<line x1="532.2" y1="253.66" x2="530" y2="253.66" stroke="#000" stroke-width="1.4"/>
<line x1="532.2" y1="252.44" x2="530" y2="252.44" stroke="#000" stroke-width="1.4"/>
<line x1="532.2" y1="251.36" x2="530" y2="251.36" stroke="#000" stroke-width="1.4"/>
<line x1="532.2" y1="250.4" x2="526.7" y2="250.4" stroke="#000" stroke-width="2"/>
<line x1="532.2" y1="244.06" x2="530" y2="244.06" stroke="#000" stroke-width="1.4"/>
<line x1="532.2" y1="240.36" x2="530" y2="240.36" stroke="#000" stroke-width="1.4"/>
<line x1="532.2" y1="237.73" x2="530" y2="237.73" stroke="#000" stroke-width="1.4"/>
<line x1="532.2" y1="235.69" x2="530" y2="235.69" stroke="#000" stroke-width="1.4"/>
<line x1="532.2" y1="234.02" x2="530" y2="234.02" stroke="#000" stroke-width="1.4"/>
<line x1="532.2" y1="232.61" x2="530" y2="232.61" stroke="#000" stroke-width="1.4"/>
<line x1="532.2" y1="231.39" x2="530" y2="231.39" stroke="#000" stroke-width="1.4"/>
<line x1="532.2" y1="230.31" x2="530" y2="230.31" stroke="#000" stroke-width="1.4"/>
<line x1="532.2" y1="229.35" x2="526.7" y2="229.35" stroke="#000" stroke-width="2"/>
<line x1="532.2" y1="223.01" x2="530" y2="223.01" stroke="#000" stroke-width="1.4"/>
<line x1="532.2" y1="219.31" x2="530" y2="219.31" stroke="#000" stroke-width="1.4"/>
<line x1="532.2" y1="216.68" x2="530" y2="216.68" stroke="#000" stroke-width="1.4"/>
<line x1="532.2" y1="214.64" x2="530" y2="214.64" stroke="#000" stroke-width="1.4"/>
<line x1="532.2" y1="212.97" x2="530" y2="212.97" stroke="#000" stroke-width="1.4"/>
<line x1="532.2" y1="211.56" x2="530" y2="211.56" stroke="#000" stroke-width="1.4"/>
<line x1="532.2" y1="210.34" x2="530" y2="210.34" stroke="#000" stroke-width="1.4"/>
<line x1="532.2" y1="209.26" x2="530" y2="209.26" stroke="#000" stroke-width="1.4"/>
<line x1="532.2" y1="208.3" x2="526.7" y2="208.3" stroke="#000" stroke-width="2"/>
<line x1="532.2" y1="201.96" x2="530" y2="201.96" stroke="#000" stroke-width="1.4"/>
<line x1="532.2" y1="198.26" x2="530" y2="198.26" stroke="#000" stroke-width="1.4"/>
<line x1="532.2" y1="195.63" x2="530" y2="195.63" stroke="#000" stroke-width="1.4"/>
<text transform="translate(523.5 387.3) scale(1 1.04)" font-size="28" fill="#000" text-anchor="end">10<tspan dy="-10.67" font-size="19">0</tspan></text>
<text transform="translate(523.5 345.2) scale(1 1.04)" font-size="28" fill="#000" text-anchor="end">10<tspan dy="-10.67" font-size="19">2</tspan></text>
<text transform="translate(523.5 303.1) scale(1 1.04)" font-size="28" fill="#000" text-anchor="end">10<tspan dy="-10.67" font-size="19">4</tspan></text>
<text transform="translate(523.5 261) scale(1 1.04)" font-size="28" fill="#000" text-anchor="end">10<tspan dy="-10.67" font-size="19">6</tspan></text>
<text transform="translate(523.5 218.9) scale(1 1.04)" font-size="28" fill="#000" text-anchor="end">10<tspan dy="-10.67" font-size="19">8</tspan></text>
<line x1="536.1" y1="376.8" x2="536.1" y2="382.3" stroke="#000" stroke-width="2"/>
<line x1="536.1" y1="193.5" x2="536.1" y2="197.5" stroke="#000" stroke-width="2"/>
<text transform="translate(536.1 408.4) scale(1 1.04)" font-size="28" fill="#000" text-anchor="middle" font-weight="normal">-20</text>
<line x1="573.15" y1="376.8" x2="573.15" y2="379.8" stroke="#000" stroke-width="2"/>
<line x1="573.15" y1="193.5" x2="573.15" y2="196.5" stroke="#000" stroke-width="2"/>
<line x1="610.2" y1="376.8" x2="610.2" y2="382.3" stroke="#000" stroke-width="2"/>
<line x1="610.2" y1="193.5" x2="610.2" y2="197.5" stroke="#000" stroke-width="2"/>
<text transform="translate(610.2 408.4) scale(1 1.04)" font-size="28" fill="#000" text-anchor="middle" font-weight="normal">-10</text>
<line x1="647.25" y1="376.8" x2="647.25" y2="379.8" stroke="#000" stroke-width="2"/>
<line x1="647.25" y1="193.5" x2="647.25" y2="196.5" stroke="#000" stroke-width="2"/>
<line x1="684.3" y1="376.8" x2="684.3" y2="382.3" stroke="#000" stroke-width="2"/>
<line x1="684.3" y1="193.5" x2="684.3" y2="197.5" stroke="#000" stroke-width="2"/>
<text transform="translate(684.3 408.4) scale(1 1.04)" font-size="28" fill="#000" text-anchor="middle" font-weight="normal">0</text>
<line x1="721.35" y1="376.8" x2="721.35" y2="379.8" stroke="#000" stroke-width="2"/>
<line x1="721.35" y1="193.5" x2="721.35" y2="196.5" stroke="#000" stroke-width="2"/>
<line x1="758.4" y1="376.8" x2="758.4" y2="382.3" stroke="#000" stroke-width="2"/>
<line x1="758.4" y1="193.5" x2="758.4" y2="197.5" stroke="#000" stroke-width="2"/>
<text transform="translate(758.4 408.4) scale(1 1.04)" font-size="28" fill="#000" text-anchor="middle" font-weight="normal">10</text>
<line x1="795.45" y1="376.8" x2="795.45" y2="379.8" stroke="#000" stroke-width="2"/>
<line x1="795.45" y1="193.5" x2="795.45" y2="196.5" stroke="#000" stroke-width="2"/>
<line x1="832.5" y1="376.8" x2="832.5" y2="382.3" stroke="#000" stroke-width="2"/>
<line x1="832.5" y1="193.5" x2="832.5" y2="197.5" stroke="#000" stroke-width="2"/>
<text transform="translate(832.5 408.4) scale(1 1.04)" font-size="28" fill="#000" text-anchor="middle" font-weight="normal">20</text>
<path d="M536.15,279.85 L543.55,271.22 L550.95,271.22 L558.34,266.29 L565.74,263.33 L573.14,260.87 L580.53,262.84 L587.93,255.94 L595.33,258.4 L602.72,259.39 L610.12,254.7 L617.51,248.29 L624.91,240.4 L632.31,233.5 L640.2,231.28 L647.59,239.66 L654.99,284.29 L661.89,305.74 L669.29,324.23 L676.69,337.3 L684.08,346.67 L691.48,352.58 L698.88,357.02 L706.27,360.72 L713.67,362.94 L721.07,364.91 L728.46,366.64 L735.86,367.87 L743.75,368.86 L751.14,369.6 L758.54,370.34 L765.94,370.83 L773.33,371.32 L780.73,371.81 L788.13,372.06 L795.52,372.55 L802.92,373.05 L810.32,373.29 L817.71,373.54 L825.11,373.79 L832.5,374.03" fill="none" stroke="#000" stroke-width="0.9" stroke-linejoin="round"/>
<circle cx="536.15" cy="279.85" r="4.4" fill="url(#bg)"/>
<circle cx="543.55" cy="271.22" r="4.4" fill="url(#bg)"/>
<circle cx="550.95" cy="271.22" r="4.4" fill="url(#bg)"/>
<circle cx="558.34" cy="266.29" r="4.4" fill="url(#bg)"/>
<circle cx="565.74" cy="263.33" r="4.4" fill="url(#bg)"/>
<circle cx="573.14" cy="260.87" r="4.4" fill="url(#bg)"/>
<circle cx="580.53" cy="262.84" r="4.4" fill="url(#bg)"/>
<circle cx="587.93" cy="255.94" r="4.4" fill="url(#bg)"/>
<circle cx="595.33" cy="258.4" r="4.4" fill="url(#bg)"/>
<circle cx="602.72" cy="259.39" r="4.4" fill="url(#bg)"/>
<circle cx="610.12" cy="254.7" r="4.4" fill="url(#bg)"/>
<circle cx="617.51" cy="248.29" r="4.4" fill="url(#bg)"/>
<circle cx="624.91" cy="240.4" r="4.4" fill="url(#bg)"/>
<circle cx="632.31" cy="233.5" r="4.4" fill="url(#bg)"/>
<circle cx="640.2" cy="231.28" r="4.4" fill="url(#bg)"/>
<circle cx="647.59" cy="239.66" r="4.4" fill="url(#bg)"/>
<circle cx="654.99" cy="284.29" r="4.4" fill="url(#bg)"/>
<circle cx="661.89" cy="305.74" r="4.4" fill="url(#bg)"/>
<circle cx="669.29" cy="324.23" r="4.4" fill="url(#bg)"/>
<circle cx="676.69" cy="337.3" r="4.4" fill="url(#bg)"/>
<circle cx="684.08" cy="346.67" r="4.4" fill="url(#bg)"/>
<circle cx="691.48" cy="352.58" r="4.4" fill="url(#bg)"/>
<circle cx="698.88" cy="357.02" r="4.4" fill="url(#bg)"/>
<circle cx="706.27" cy="360.72" r="4.4" fill="url(#bg)"/>
<circle cx="713.67" cy="362.94" r="4.4" fill="url(#bg)"/>
<circle cx="721.07" cy="364.91" r="4.4" fill="url(#bg)"/>
<circle cx="728.46" cy="366.64" r="4.4" fill="url(#bg)"/>
<circle cx="735.86" cy="367.87" r="4.4" fill="url(#bg)"/>
<circle cx="743.75" cy="368.86" r="4.4" fill="url(#bg)"/>
<circle cx="751.14" cy="369.6" r="4.4" fill="url(#bg)"/>
<circle cx="758.54" cy="370.34" r="4.4" fill="url(#bg)"/>
<circle cx="765.94" cy="370.83" r="4.4" fill="url(#bg)"/>
<circle cx="773.33" cy="371.32" r="4.4" fill="url(#bg)"/>
<circle cx="780.73" cy="371.81" r="4.4" fill="url(#bg)"/>
<circle cx="788.13" cy="372.06" r="4.4" fill="url(#bg)"/>
<circle cx="795.52" cy="372.55" r="4.4" fill="url(#bg)"/>
<circle cx="802.92" cy="373.05" r="4.4" fill="url(#bg)"/>
<circle cx="810.32" cy="373.29" r="4.4" fill="url(#bg)"/>
<circle cx="817.71" cy="373.54" r="4.4" fill="url(#bg)"/>
<circle cx="825.11" cy="373.79" r="4.4" fill="url(#bg)"/>
<circle cx="832.5" cy="374.03" r="4.4" fill="url(#bg)"/>
<rect x="532.2" y="193.5" width="324.7" height="183.3" fill="none" stroke="#000" stroke-width="2.6"/>
<text transform="translate(643.5 441) scale(1 1.04)" font-size="34.6" fill="#000" text-anchor="start"><tspan dy="0" font-size="34.6">V</tspan><tspan dy="8.46" font-size="23">GS</tspan><tspan dy="-8.46" font-size="34.6">(V)</tspan></text>
<text transform="translate(479.5 374.6) rotate(-90) scale(1 1.04)" font-size="34" fill="#000" text-anchor="start" font-weight="normal">Sensitivity</text>
<rect x="996.6" y="0.4" width="736.2" height="459.4" fill="none" stroke="#000" stroke-width="3"/>
<line x1="996.6" y1="460.18" x2="983.4" y2="460.18" stroke="#000" stroke-width="2.8"/>
<line x1="996.6" y1="444.27" x2="989.8" y2="444.27" stroke="#000" stroke-width="2.2"/>
<line x1="996.6" y1="434.96" x2="989.8" y2="434.96" stroke="#000" stroke-width="2.2"/>
<line x1="996.6" y1="428.36" x2="989.8" y2="428.36" stroke="#000" stroke-width="2.2"/>
<line x1="996.6" y1="423.23" x2="989.8" y2="423.23" stroke="#000" stroke-width="2.2"/>
<line x1="996.6" y1="419.05" x2="989.8" y2="419.05" stroke="#000" stroke-width="2.2"/>
<line x1="996.6" y1="415.51" x2="989.8" y2="415.51" stroke="#000" stroke-width="2.2"/>
<line x1="996.6" y1="412.44" x2="989.8" y2="412.44" stroke="#000" stroke-width="2.2"/>
<line x1="996.6" y1="409.74" x2="989.8" y2="409.74" stroke="#000" stroke-width="2.2"/>
<line x1="996.6" y1="407.32" x2="983.4" y2="407.32" stroke="#000" stroke-width="2.8"/>
<line x1="996.6" y1="391.41" x2="989.8" y2="391.41" stroke="#000" stroke-width="2.2"/>
<line x1="996.6" y1="382.1" x2="989.8" y2="382.1" stroke="#000" stroke-width="2.2"/>
<line x1="996.6" y1="375.5" x2="989.8" y2="375.5" stroke="#000" stroke-width="2.2"/>
<line x1="996.6" y1="370.37" x2="989.8" y2="370.37" stroke="#000" stroke-width="2.2"/>
<line x1="996.6" y1="366.19" x2="989.8" y2="366.19" stroke="#000" stroke-width="2.2"/>
<line x1="996.6" y1="362.65" x2="989.8" y2="362.65" stroke="#000" stroke-width="2.2"/>
<line x1="996.6" y1="359.58" x2="989.8" y2="359.58" stroke="#000" stroke-width="2.2"/>
<line x1="996.6" y1="356.88" x2="989.8" y2="356.88" stroke="#000" stroke-width="2.2"/>
<line x1="996.6" y1="354.46" x2="983.4" y2="354.46" stroke="#000" stroke-width="2.8"/>
<line x1="996.6" y1="338.55" x2="989.8" y2="338.55" stroke="#000" stroke-width="2.2"/>
<line x1="996.6" y1="329.24" x2="989.8" y2="329.24" stroke="#000" stroke-width="2.2"/>
<line x1="996.6" y1="322.64" x2="989.8" y2="322.64" stroke="#000" stroke-width="2.2"/>
<line x1="996.6" y1="317.51" x2="989.8" y2="317.51" stroke="#000" stroke-width="2.2"/>
<line x1="996.6" y1="313.33" x2="989.8" y2="313.33" stroke="#000" stroke-width="2.2"/>
<line x1="996.6" y1="309.79" x2="989.8" y2="309.79" stroke="#000" stroke-width="2.2"/>
<line x1="996.6" y1="306.72" x2="989.8" y2="306.72" stroke="#000" stroke-width="2.2"/>
<line x1="996.6" y1="304.02" x2="989.8" y2="304.02" stroke="#000" stroke-width="2.2"/>
<line x1="996.6" y1="301.6" x2="983.4" y2="301.6" stroke="#000" stroke-width="2.8"/>
<line x1="996.6" y1="285.69" x2="989.8" y2="285.69" stroke="#000" stroke-width="2.2"/>
<line x1="996.6" y1="276.38" x2="989.8" y2="276.38" stroke="#000" stroke-width="2.2"/>
<line x1="996.6" y1="269.78" x2="989.8" y2="269.78" stroke="#000" stroke-width="2.2"/>
<line x1="996.6" y1="264.65" x2="989.8" y2="264.65" stroke="#000" stroke-width="2.2"/>
<line x1="996.6" y1="260.47" x2="989.8" y2="260.47" stroke="#000" stroke-width="2.2"/>
<line x1="996.6" y1="256.93" x2="989.8" y2="256.93" stroke="#000" stroke-width="2.2"/>
<line x1="996.6" y1="253.86" x2="989.8" y2="253.86" stroke="#000" stroke-width="2.2"/>
<line x1="996.6" y1="251.16" x2="989.8" y2="251.16" stroke="#000" stroke-width="2.2"/>
<line x1="996.6" y1="248.74" x2="983.4" y2="248.74" stroke="#000" stroke-width="2.8"/>
<line x1="996.6" y1="232.83" x2="989.8" y2="232.83" stroke="#000" stroke-width="2.2"/>
<line x1="996.6" y1="223.52" x2="989.8" y2="223.52" stroke="#000" stroke-width="2.2"/>
<line x1="996.6" y1="216.92" x2="989.8" y2="216.92" stroke="#000" stroke-width="2.2"/>
<line x1="996.6" y1="211.79" x2="989.8" y2="211.79" stroke="#000" stroke-width="2.2"/>
<line x1="996.6" y1="207.61" x2="989.8" y2="207.61" stroke="#000" stroke-width="2.2"/>
<line x1="996.6" y1="204.07" x2="989.8" y2="204.07" stroke="#000" stroke-width="2.2"/>
<line x1="996.6" y1="201" x2="989.8" y2="201" stroke="#000" stroke-width="2.2"/>
<line x1="996.6" y1="198.3" x2="989.8" y2="198.3" stroke="#000" stroke-width="2.2"/>
<line x1="996.6" y1="195.88" x2="983.4" y2="195.88" stroke="#000" stroke-width="2.8"/>
<line x1="996.6" y1="179.97" x2="989.8" y2="179.97" stroke="#000" stroke-width="2.2"/>
<line x1="996.6" y1="170.66" x2="989.8" y2="170.66" stroke="#000" stroke-width="2.2"/>
<line x1="996.6" y1="164.06" x2="989.8" y2="164.06" stroke="#000" stroke-width="2.2"/>
<line x1="996.6" y1="158.93" x2="989.8" y2="158.93" stroke="#000" stroke-width="2.2"/>
<line x1="996.6" y1="154.75" x2="989.8" y2="154.75" stroke="#000" stroke-width="2.2"/>
<line x1="996.6" y1="151.21" x2="989.8" y2="151.21" stroke="#000" stroke-width="2.2"/>
<line x1="996.6" y1="148.14" x2="989.8" y2="148.14" stroke="#000" stroke-width="2.2"/>
<line x1="996.6" y1="145.44" x2="989.8" y2="145.44" stroke="#000" stroke-width="2.2"/>
<line x1="996.6" y1="143.02" x2="983.4" y2="143.02" stroke="#000" stroke-width="2.8"/>
<line x1="996.6" y1="127.11" x2="989.8" y2="127.11" stroke="#000" stroke-width="2.2"/>
<line x1="996.6" y1="117.8" x2="989.8" y2="117.8" stroke="#000" stroke-width="2.2"/>
<line x1="996.6" y1="111.2" x2="989.8" y2="111.2" stroke="#000" stroke-width="2.2"/>
<line x1="996.6" y1="106.07" x2="989.8" y2="106.07" stroke="#000" stroke-width="2.2"/>
<line x1="996.6" y1="101.89" x2="989.8" y2="101.89" stroke="#000" stroke-width="2.2"/>
<line x1="996.6" y1="98.35" x2="989.8" y2="98.35" stroke="#000" stroke-width="2.2"/>
<line x1="996.6" y1="95.28" x2="989.8" y2="95.28" stroke="#000" stroke-width="2.2"/>
<line x1="996.6" y1="92.58" x2="989.8" y2="92.58" stroke="#000" stroke-width="2.2"/>
<line x1="996.6" y1="90.16" x2="983.4" y2="90.16" stroke="#000" stroke-width="2.8"/>
<line x1="996.6" y1="74.25" x2="989.8" y2="74.25" stroke="#000" stroke-width="2.2"/>
<line x1="996.6" y1="64.94" x2="989.8" y2="64.94" stroke="#000" stroke-width="2.2"/>
<line x1="996.6" y1="58.34" x2="989.8" y2="58.34" stroke="#000" stroke-width="2.2"/>
<line x1="996.6" y1="53.21" x2="989.8" y2="53.21" stroke="#000" stroke-width="2.2"/>
<line x1="996.6" y1="49.03" x2="989.8" y2="49.03" stroke="#000" stroke-width="2.2"/>
<line x1="996.6" y1="45.49" x2="989.8" y2="45.49" stroke="#000" stroke-width="2.2"/>
<line x1="996.6" y1="42.42" x2="989.8" y2="42.42" stroke="#000" stroke-width="2.2"/>
<line x1="996.6" y1="39.72" x2="989.8" y2="39.72" stroke="#000" stroke-width="2.2"/>
<line x1="996.6" y1="37.3" x2="983.4" y2="37.3" stroke="#000" stroke-width="2.8"/>
<line x1="996.6" y1="21.39" x2="989.8" y2="21.39" stroke="#000" stroke-width="2.2"/>
<line x1="996.6" y1="12.08" x2="989.8" y2="12.08" stroke="#000" stroke-width="2.2"/>
<line x1="996.6" y1="5.48" x2="989.8" y2="5.48" stroke="#000" stroke-width="2.2"/>
<text transform="translate(979.9 473.38) scale(1 1.04)" font-size="35" fill="#000" text-anchor="end">10<tspan dy="-13.27" font-size="24">-12</tspan></text>
<text transform="translate(979.9 367.66) scale(1 1.04)" font-size="35" fill="#000" text-anchor="end">10<tspan dy="-13.27" font-size="24">-10</tspan></text>
<text transform="translate(979.9 261.94) scale(1 1.04)" font-size="35" fill="#000" text-anchor="end">10<tspan dy="-13.27" font-size="24">-8</tspan></text>
<text transform="translate(979.9 156.22) scale(1 1.04)" font-size="35" fill="#000" text-anchor="end">10<tspan dy="-13.27" font-size="24">-6</tspan></text>
<text transform="translate(979.9 50.5) scale(1 1.04)" font-size="35" fill="#000" text-anchor="end">10<tspan dy="-13.27" font-size="24">-4</tspan></text>
<line x1="1005.5" y1="459.8" x2="1005.5" y2="472.8" stroke="#000" stroke-width="2.8"/>
<text transform="translate(1005.5 503.5) scale(1 1.04)" font-size="35" fill="#000" text-anchor="middle" font-weight="normal">-20</text>
<line x1="1095.28" y1="459.8" x2="1095.28" y2="466.3" stroke="#000" stroke-width="2.4"/>
<line x1="1185.05" y1="459.8" x2="1185.05" y2="472.8" stroke="#000" stroke-width="2.8"/>
<text transform="translate(1185.05 503.5) scale(1 1.04)" font-size="35" fill="#000" text-anchor="middle" font-weight="normal">-10</text>
<line x1="1274.83" y1="459.8" x2="1274.83" y2="466.3" stroke="#000" stroke-width="2.4"/>
<line x1="1364.6" y1="459.8" x2="1364.6" y2="472.8" stroke="#000" stroke-width="2.8"/>
<text transform="translate(1364.6 503.5) scale(1 1.04)" font-size="35" fill="#000" text-anchor="middle" font-weight="normal">0</text>
<line x1="1454.38" y1="459.8" x2="1454.38" y2="466.3" stroke="#000" stroke-width="2.4"/>
<line x1="1544.15" y1="459.8" x2="1544.15" y2="472.8" stroke="#000" stroke-width="2.8"/>
<text transform="translate(1544.15 503.5) scale(1 1.04)" font-size="35" fill="#000" text-anchor="middle" font-weight="normal">10</text>
<line x1="1633.92" y1="459.8" x2="1633.92" y2="466.3" stroke="#000" stroke-width="2.4"/>
<line x1="1723.7" y1="459.8" x2="1723.7" y2="472.8" stroke="#000" stroke-width="2.8"/>
<text transform="translate(1723.7 503.5) scale(1 1.04)" font-size="35" fill="#000" text-anchor="middle" font-weight="normal">20</text>
<text transform="translate(1308.5 528.2) scale(1 1.04)" font-size="42" fill="#000" text-anchor="start"><tspan dy="0" font-size="42">V</tspan><tspan dy="10.29" font-size="28">GS</tspan><tspan dy="-10.29" font-size="42">(V)</tspan></text>
<text transform="translate(916.6 231.3) rotate(-90) scale(1 1.04)" font-size="42" fill="#000" text-anchor="start"><tspan dy="0" font-size="42">I</tspan><tspan dy="10.58" font-size="28">DS</tspan><tspan dy="-10.58" font-size="42">(A)</tspan></text>
<g clip-path="url(#clipB)">
<path d="M1005.5,32.3 L1023.46,32.16 L1041.41,32.02 L1059.37,31.88 L1077.32,31.74 L1095.28,31.6 L1113.23,31.46 L1131.18,31.32 L1149.14,31.18 L1167.1,31.04 L1185.05,30.9 L1203.01,30.76 L1220.96,30.62 L1238.91,30.48 L1256.87,30.34 L1274.83,30.2 L1292.78,30.06 L1310.73,29.92 L1328.69,29.78 L1346.64,29.64 L1364.6,29.5 L1382.55,29.36 L1400.51,29.22 L1418.46,29.08 L1436.42,28.94 L1454.38,28.8 L1472.33,28.66 L1490.28,28.52 L1508.24,28.38 L1526.19,28.24 L1544.15,28.1 L1562.11,27.96 L1580.06,27.82 L1598.01,27.68 L1615.97,27.54 L1633.92,27.4 L1651.88,27.26 L1669.84,27.12 L1687.79,26.98 L1705.74,26.84 L1723.7,26.7" fill="none" stroke="#ff0000" stroke-width="1.2" stroke-linejoin="round"/>
<path d="M1005.5,21.6 L1014.77,37.65 L996.23,37.65 Z" fill="#fff" stroke="#ff0000" stroke-width="1.3" stroke-linejoin="miter"/>
<path d="M1005.5,21.6 L1014.77,37.65 L1005.5,37.65 Z" fill="#ff0000"/>
<path d="M1023.46,21.46 L1032.72,37.51 L1014.19,37.51 Z" fill="#fff" stroke="#ff0000" stroke-width="1.3" stroke-linejoin="miter"/>
<path d="M1023.46,21.46 L1032.72,37.51 L1023.46,37.51 Z" fill="#ff0000"/>
<path d="M1041.41,21.32 L1050.68,37.37 L1032.14,37.37 Z" fill="#fff" stroke="#ff0000" stroke-width="1.3" stroke-linejoin="miter"/>
<path d="M1041.41,21.32 L1050.68,37.37 L1041.41,37.37 Z" fill="#ff0000"/>
<path d="M1059.37,21.18 L1068.63,37.23 L1050.1,37.23 Z" fill="#fff" stroke="#ff0000" stroke-width="1.3" stroke-linejoin="miter"/>
<path d="M1059.37,21.18 L1068.63,37.23 L1059.37,37.23 Z" fill="#ff0000"/>
<path d="M1077.32,21.04 L1086.59,37.09 L1068.05,37.09 Z" fill="#fff" stroke="#ff0000" stroke-width="1.3" stroke-linejoin="miter"/>
<path d="M1077.32,21.04 L1086.59,37.09 L1077.32,37.09 Z" fill="#ff0000"/>
<path d="M1095.28,20.9 L1104.54,36.95 L1086.01,36.95 Z" fill="#fff" stroke="#ff0000" stroke-width="1.3" stroke-linejoin="miter"/>
<path d="M1095.28,20.9 L1104.54,36.95 L1095.28,36.95 Z" fill="#ff0000"/>
<path d="M1113.23,20.76 L1122.5,36.81 L1103.96,36.81 Z" fill="#fff" stroke="#ff0000" stroke-width="1.3" stroke-linejoin="miter"/>
<path d="M1113.23,20.76 L1122.5,36.81 L1113.23,36.81 Z" fill="#ff0000"/>
<path d="M1131.18,20.62 L1140.45,36.67 L1121.92,36.67 Z" fill="#fff" stroke="#ff0000" stroke-width="1.3" stroke-linejoin="miter"/>
<path d="M1131.18,20.62 L1140.45,36.67 L1131.18,36.67 Z" fill="#ff0000"/>
<path d="M1149.14,20.48 L1158.41,36.53 L1139.87,36.53 Z" fill="#fff" stroke="#ff0000" stroke-width="1.3" stroke-linejoin="miter"/>
<path d="M1149.14,20.48 L1158.41,36.53 L1149.14,36.53 Z" fill="#ff0000"/>
<path d="M1167.1,20.34 L1176.36,36.39 L1157.83,36.39 Z" fill="#fff" stroke="#ff0000" stroke-width="1.3" stroke-linejoin="miter"/>
<path d="M1167.1,20.34 L1176.36,36.39 L1167.1,36.39 Z" fill="#ff0000"/>
<path d="M1185.05,20.2 L1194.32,36.25 L1175.78,36.25 Z" fill="#fff" stroke="#ff0000" stroke-width="1.3" stroke-linejoin="miter"/>
<path d="M1185.05,20.2 L1194.32,36.25 L1185.05,36.25 Z" fill="#ff0000"/>
<path d="M1203.01,20.06 L1212.27,36.11 L1193.74,36.11 Z" fill="#fff" stroke="#ff0000" stroke-width="1.3" stroke-linejoin="miter"/>
<path d="M1203.01,20.06 L1212.27,36.11 L1203.01,36.11 Z" fill="#ff0000"/>
<path d="M1220.96,19.92 L1230.23,35.97 L1211.69,35.97 Z" fill="#fff" stroke="#ff0000" stroke-width="1.3" stroke-linejoin="miter"/>
<path d="M1220.96,19.92 L1230.23,35.97 L1220.96,35.97 Z" fill="#ff0000"/>
<path d="M1238.91,19.78 L1248.18,35.83 L1229.65,35.83 Z" fill="#fff" stroke="#ff0000" stroke-width="1.3" stroke-linejoin="miter"/>
<path d="M1238.91,19.78 L1248.18,35.83 L1238.91,35.83 Z" fill="#ff0000"/>
<path d="M1256.87,19.64 L1266.14,35.69 L1247.6,35.69 Z" fill="#fff" stroke="#ff0000" stroke-width="1.3" stroke-linejoin="miter"/>
<path d="M1256.87,19.64 L1266.14,35.69 L1256.87,35.69 Z" fill="#ff0000"/>
<path d="M1274.83,19.5 L1284.09,35.55 L1265.56,35.55 Z" fill="#fff" stroke="#ff0000" stroke-width="1.3" stroke-linejoin="miter"/>
<path d="M1274.83,19.5 L1284.09,35.55 L1274.83,35.55 Z" fill="#ff0000"/>
<path d="M1292.78,19.36 L1302.05,35.41 L1283.51,35.41 Z" fill="#fff" stroke="#ff0000" stroke-width="1.3" stroke-linejoin="miter"/>
<path d="M1292.78,19.36 L1302.05,35.41 L1292.78,35.41 Z" fill="#ff0000"/>
<path d="M1310.73,19.22 L1320,35.27 L1301.47,35.27 Z" fill="#fff" stroke="#ff0000" stroke-width="1.3" stroke-linejoin="miter"/>
<path d="M1310.73,19.22 L1320,35.27 L1310.73,35.27 Z" fill="#ff0000"/>
<path d="M1328.69,19.08 L1337.96,35.13 L1319.42,35.13 Z" fill="#fff" stroke="#ff0000" stroke-width="1.3" stroke-linejoin="miter"/>
<path d="M1328.69,19.08 L1337.96,35.13 L1328.69,35.13 Z" fill="#ff0000"/>
<path d="M1346.64,18.94 L1355.91,34.99 L1337.38,34.99 Z" fill="#fff" stroke="#ff0000" stroke-width="1.3" stroke-linejoin="miter"/>
<path d="M1346.64,18.94 L1355.91,34.99 L1346.64,34.99 Z" fill="#ff0000"/>
<path d="M1364.6,18.8 L1373.87,34.85 L1355.33,34.85 Z" fill="#fff" stroke="#ff0000" stroke-width="1.3" stroke-linejoin="miter"/>
<path d="M1364.6,18.8 L1373.87,34.85 L1364.6,34.85 Z" fill="#ff0000"/>
<path d="M1382.55,18.66 L1391.82,34.71 L1373.29,34.71 Z" fill="#fff" stroke="#ff0000" stroke-width="1.3" stroke-linejoin="miter"/>
<path d="M1382.55,18.66 L1391.82,34.71 L1382.55,34.71 Z" fill="#ff0000"/>
<path d="M1400.51,18.52 L1409.78,34.57 L1391.24,34.57 Z" fill="#fff" stroke="#ff0000" stroke-width="1.3" stroke-linejoin="miter"/>
<path d="M1400.51,18.52 L1409.78,34.57 L1400.51,34.57 Z" fill="#ff0000"/>
<path d="M1418.46,18.38 L1427.73,34.43 L1409.2,34.43 Z" fill="#fff" stroke="#ff0000" stroke-width="1.3" stroke-linejoin="miter"/>
<path d="M1418.46,18.38 L1427.73,34.43 L1418.46,34.43 Z" fill="#ff0000"/>
<path d="M1436.42,18.24 L1445.69,34.29 L1427.15,34.29 Z" fill="#fff" stroke="#ff0000" stroke-width="1.3" stroke-linejoin="miter"/>
<path d="M1436.42,18.24 L1445.69,34.29 L1436.42,34.29 Z" fill="#ff0000"/>
<path d="M1454.38,18.1 L1463.64,34.15 L1445.11,34.15 Z" fill="#fff" stroke="#ff0000" stroke-width="1.3" stroke-linejoin="miter"/>
<path d="M1454.38,18.1 L1463.64,34.15 L1454.38,34.15 Z" fill="#ff0000"/>
<path d="M1472.33,17.96 L1481.6,34.01 L1463.06,34.01 Z" fill="#fff" stroke="#ff0000" stroke-width="1.3" stroke-linejoin="miter"/>
<path d="M1472.33,17.96 L1481.6,34.01 L1472.33,34.01 Z" fill="#ff0000"/>
<path d="M1490.28,17.82 L1499.55,33.87 L1481.02,33.87 Z" fill="#fff" stroke="#ff0000" stroke-width="1.3" stroke-linejoin="miter"/>
<path d="M1490.28,17.82 L1499.55,33.87 L1490.28,33.87 Z" fill="#ff0000"/>
<path d="M1508.24,17.68 L1517.51,33.73 L1498.97,33.73 Z" fill="#fff" stroke="#ff0000" stroke-width="1.3" stroke-linejoin="miter"/>
<path d="M1508.24,17.68 L1517.51,33.73 L1508.24,33.73 Z" fill="#ff0000"/>
<path d="M1526.19,17.54 L1535.46,33.59 L1516.93,33.59 Z" fill="#fff" stroke="#ff0000" stroke-width="1.3" stroke-linejoin="miter"/>
<path d="M1526.19,17.54 L1535.46,33.59 L1526.19,33.59 Z" fill="#ff0000"/>
<path d="M1544.15,17.4 L1553.42,33.45 L1534.88,33.45 Z" fill="#fff" stroke="#ff0000" stroke-width="1.3" stroke-linejoin="miter"/>
<path d="M1544.15,17.4 L1553.42,33.45 L1544.15,33.45 Z" fill="#ff0000"/>
<path d="M1562.11,17.26 L1571.37,33.31 L1552.84,33.31 Z" fill="#fff" stroke="#ff0000" stroke-width="1.3" stroke-linejoin="miter"/>
<path d="M1562.11,17.26 L1571.37,33.31 L1562.11,33.31 Z" fill="#ff0000"/>
<path d="M1580.06,17.12 L1589.33,33.17 L1570.79,33.17 Z" fill="#fff" stroke="#ff0000" stroke-width="1.3" stroke-linejoin="miter"/>
<path d="M1580.06,17.12 L1589.33,33.17 L1580.06,33.17 Z" fill="#ff0000"/>
<path d="M1598.01,16.98 L1607.28,33.03 L1588.75,33.03 Z" fill="#fff" stroke="#ff0000" stroke-width="1.3" stroke-linejoin="miter"/>
<path d="M1598.01,16.98 L1607.28,33.03 L1598.01,33.03 Z" fill="#ff0000"/>
<path d="M1615.97,16.84 L1625.24,32.89 L1606.7,32.89 Z" fill="#fff" stroke="#ff0000" stroke-width="1.3" stroke-linejoin="miter"/>
<path d="M1615.97,16.84 L1625.24,32.89 L1615.97,32.89 Z" fill="#ff0000"/>
<path d="M1633.92,16.7 L1643.19,32.75 L1624.66,32.75 Z" fill="#fff" stroke="#ff0000" stroke-width="1.3" stroke-linejoin="miter"/>
<path d="M1633.92,16.7 L1643.19,32.75 L1633.92,32.75 Z" fill="#ff0000"/>
<path d="M1651.88,16.56 L1661.15,32.61 L1642.61,32.61 Z" fill="#fff" stroke="#ff0000" stroke-width="1.3" stroke-linejoin="miter"/>
<path d="M1651.88,16.56 L1661.15,32.61 L1651.88,32.61 Z" fill="#ff0000"/>
<path d="M1669.84,16.42 L1679.1,32.47 L1660.57,32.47 Z" fill="#fff" stroke="#ff0000" stroke-width="1.3" stroke-linejoin="miter"/>
<path d="M1669.84,16.42 L1679.1,32.47 L1669.84,32.47 Z" fill="#ff0000"/>
<path d="M1687.79,16.28 L1697.06,32.33 L1678.52,32.33 Z" fill="#fff" stroke="#ff0000" stroke-width="1.3" stroke-linejoin="miter"/>
<path d="M1687.79,16.28 L1697.06,32.33 L1687.79,32.33 Z" fill="#ff0000"/>
<path d="M1705.74,16.14 L1715.01,32.19 L1696.48,32.19 Z" fill="#fff" stroke="#ff0000" stroke-width="1.3" stroke-linejoin="miter"/>
<path d="M1705.74,16.14 L1715.01,32.19 L1705.74,32.19 Z" fill="#ff0000"/>
<path d="M1723.7,16 L1732.97,32.05 L1714.43,32.05 Z" fill="#fff" stroke="#ff0000" stroke-width="1.3" stroke-linejoin="miter"/>
<path d="M1723.7,16 L1732.97,32.05 L1723.7,32.05 Z" fill="#ff0000"/>
<path d="M1005.5,399 L1023.46,415 L1041.41,446.9 L1059.37,417.6 L1077.32,434.5 L1095.28,403.9 L1113.23,413.3 L1131.18,427.4 L1149.14,410.7 L1167.1,415 L1185.05,446.5 L1203.01,397 L1220.96,322.1 L1238.91,237.2 L1256.87,185.9 L1274.83,159.5 L1292.78,140.1 L1310.73,125.8 L1328.69,116.3 L1346.64,107.4 L1364.6,100.7 L1382.55,94.7 L1400.51,88 L1418.46,84 L1436.42,79.1 L1454.38,75.3 L1472.33,71.8 L1490.28,68.5 L1508.24,65.7 L1526.19,63.1 L1544.15,60.6 L1562.11,58.3 L1580.06,56.3 L1598.01,54.5 L1615.97,52.5 L1633.92,50.7 L1651.88,49.5 L1669.84,48.3 L1687.79,46.9 L1705.74,45.4 L1723.7,44.2" fill="none" stroke="#000" stroke-width="1.4" stroke-linejoin="round"/>
<circle cx="1005.5" cy="399" r="7.8" fill="#fff" stroke="#000" stroke-width="1.5"/>
<path d="M1005,391.2 A7.8,7.8 0 0 1 1005,406.8 Z" fill="#000"/>
<circle cx="1023.46" cy="415" r="7.8" fill="#fff" stroke="#000" stroke-width="1.5"/>
<path d="M1022.96,407.2 A7.8,7.8 0 0 1 1022.96,422.8 Z" fill="#000"/>
<circle cx="1041.41" cy="446.9" r="7.8" fill="#fff" stroke="#000" stroke-width="1.5"/>
<path d="M1040.91,439.1 A7.8,7.8 0 0 1 1040.91,454.7 Z" fill="#000"/>
<circle cx="1059.37" cy="417.6" r="7.8" fill="#fff" stroke="#000" stroke-width="1.5"/>
<path d="M1058.87,409.8 A7.8,7.8 0 0 1 1058.87,425.4 Z" fill="#000"/>
<circle cx="1077.32" cy="434.5" r="7.8" fill="#fff" stroke="#000" stroke-width="1.5"/>
<path d="M1076.82,426.7 A7.8,7.8 0 0 1 1076.82,442.3 Z" fill="#000"/>
<circle cx="1095.28" cy="403.9" r="7.8" fill="#fff" stroke="#000" stroke-width="1.5"/>
<path d="M1094.78,396.1 A7.8,7.8 0 0 1 1094.78,411.7 Z" fill="#000"/>
<circle cx="1113.23" cy="413.3" r="7.8" fill="#fff" stroke="#000" stroke-width="1.5"/>
<path d="M1112.73,405.5 A7.8,7.8 0 0 1 1112.73,421.1 Z" fill="#000"/>
<circle cx="1131.18" cy="427.4" r="7.8" fill="#fff" stroke="#000" stroke-width="1.5"/>
<path d="M1130.68,419.6 A7.8,7.8 0 0 1 1130.68,435.2 Z" fill="#000"/>
<circle cx="1149.14" cy="410.7" r="7.8" fill="#fff" stroke="#000" stroke-width="1.5"/>
<path d="M1148.64,402.9 A7.8,7.8 0 0 1 1148.64,418.5 Z" fill="#000"/>
<circle cx="1167.1" cy="415" r="7.8" fill="#fff" stroke="#000" stroke-width="1.5"/>
<path d="M1166.6,407.2 A7.8,7.8 0 0 1 1166.6,422.8 Z" fill="#000"/>
<circle cx="1185.05" cy="446.5" r="7.8" fill="#fff" stroke="#000" stroke-width="1.5"/>
<path d="M1184.55,438.7 A7.8,7.8 0 0 1 1184.55,454.3 Z" fill="#000"/>
<circle cx="1203.01" cy="397" r="7.8" fill="#fff" stroke="#000" stroke-width="1.5"/>
<path d="M1202.51,389.2 A7.8,7.8 0 0 1 1202.51,404.8 Z" fill="#000"/>
<circle cx="1220.96" cy="322.1" r="7.8" fill="#fff" stroke="#000" stroke-width="1.5"/>
<path d="M1220.46,314.3 A7.8,7.8 0 0 1 1220.46,329.9 Z" fill="#000"/>
<circle cx="1238.91" cy="237.2" r="7.8" fill="#fff" stroke="#000" stroke-width="1.5"/>
<path d="M1238.41,229.4 A7.8,7.8 0 0 1 1238.41,245 Z" fill="#000"/>
<circle cx="1256.87" cy="185.9" r="7.8" fill="#fff" stroke="#000" stroke-width="1.5"/>
<path d="M1256.37,178.1 A7.8,7.8 0 0 1 1256.37,193.7 Z" fill="#000"/>
<circle cx="1274.83" cy="159.5" r="7.8" fill="#fff" stroke="#000" stroke-width="1.5"/>
<path d="M1274.33,151.7 A7.8,7.8 0 0 1 1274.33,167.3 Z" fill="#000"/>
<circle cx="1292.78" cy="140.1" r="7.8" fill="#fff" stroke="#000" stroke-width="1.5"/>
<path d="M1292.28,132.3 A7.8,7.8 0 0 1 1292.28,147.9 Z" fill="#000"/>
<circle cx="1310.73" cy="125.8" r="7.8" fill="#fff" stroke="#000" stroke-width="1.5"/>
<path d="M1310.23,118 A7.8,7.8 0 0 1 1310.23,133.6 Z" fill="#000"/>
<circle cx="1328.69" cy="116.3" r="7.8" fill="#fff" stroke="#000" stroke-width="1.5"/>
<path d="M1328.19,108.5 A7.8,7.8 0 0 1 1328.19,124.1 Z" fill="#000"/>
<circle cx="1346.64" cy="107.4" r="7.8" fill="#fff" stroke="#000" stroke-width="1.5"/>
<path d="M1346.14,99.6 A7.8,7.8 0 0 1 1346.14,115.2 Z" fill="#000"/>
<circle cx="1364.6" cy="100.7" r="7.8" fill="#fff" stroke="#000" stroke-width="1.5"/>
<path d="M1364.1,92.9 A7.8,7.8 0 0 1 1364.1,108.5 Z" fill="#000"/>
<circle cx="1382.55" cy="94.7" r="7.8" fill="#fff" stroke="#000" stroke-width="1.5"/>
<path d="M1382.05,86.9 A7.8,7.8 0 0 1 1382.05,102.5 Z" fill="#000"/>
<circle cx="1400.51" cy="88" r="7.8" fill="#fff" stroke="#000" stroke-width="1.5"/>
<path d="M1400.01,80.2 A7.8,7.8 0 0 1 1400.01,95.8 Z" fill="#000"/>
<circle cx="1418.46" cy="84" r="7.8" fill="#fff" stroke="#000" stroke-width="1.5"/>
<path d="M1417.96,76.2 A7.8,7.8 0 0 1 1417.96,91.8 Z" fill="#000"/>
<circle cx="1436.42" cy="79.1" r="7.8" fill="#fff" stroke="#000" stroke-width="1.5"/>
<path d="M1435.92,71.3 A7.8,7.8 0 0 1 1435.92,86.9 Z" fill="#000"/>
<circle cx="1454.38" cy="75.3" r="7.8" fill="#fff" stroke="#000" stroke-width="1.5"/>
<path d="M1453.88,67.5 A7.8,7.8 0 0 1 1453.88,83.1 Z" fill="#000"/>
<circle cx="1472.33" cy="71.8" r="7.8" fill="#fff" stroke="#000" stroke-width="1.5"/>
<path d="M1471.83,64 A7.8,7.8 0 0 1 1471.83,79.6 Z" fill="#000"/>
<circle cx="1490.28" cy="68.5" r="7.8" fill="#fff" stroke="#000" stroke-width="1.5"/>
<path d="M1489.78,60.7 A7.8,7.8 0 0 1 1489.78,76.3 Z" fill="#000"/>
<circle cx="1508.24" cy="65.7" r="7.8" fill="#fff" stroke="#000" stroke-width="1.5"/>
<path d="M1507.74,57.9 A7.8,7.8 0 0 1 1507.74,73.5 Z" fill="#000"/>
<circle cx="1526.19" cy="63.1" r="7.8" fill="#fff" stroke="#000" stroke-width="1.5"/>
<path d="M1525.69,55.3 A7.8,7.8 0 0 1 1525.69,70.9 Z" fill="#000"/>
<circle cx="1544.15" cy="60.6" r="7.8" fill="#fff" stroke="#000" stroke-width="1.5"/>
<path d="M1543.65,52.8 A7.8,7.8 0 0 1 1543.65,68.4 Z" fill="#000"/>
<circle cx="1562.11" cy="58.3" r="7.8" fill="#fff" stroke="#000" stroke-width="1.5"/>
<path d="M1561.61,50.5 A7.8,7.8 0 0 1 1561.61,66.1 Z" fill="#000"/>
<circle cx="1580.06" cy="56.3" r="7.8" fill="#fff" stroke="#000" stroke-width="1.5"/>
<path d="M1579.56,48.5 A7.8,7.8 0 0 1 1579.56,64.1 Z" fill="#000"/>
<circle cx="1598.01" cy="54.5" r="7.8" fill="#fff" stroke="#000" stroke-width="1.5"/>
<path d="M1597.51,46.7 A7.8,7.8 0 0 1 1597.51,62.3 Z" fill="#000"/>
<circle cx="1615.97" cy="52.5" r="7.8" fill="#fff" stroke="#000" stroke-width="1.5"/>
<path d="M1615.47,44.7 A7.8,7.8 0 0 1 1615.47,60.3 Z" fill="#000"/>
<circle cx="1633.92" cy="50.7" r="7.8" fill="#fff" stroke="#000" stroke-width="1.5"/>
<path d="M1633.42,42.9 A7.8,7.8 0 0 1 1633.42,58.5 Z" fill="#000"/>
<circle cx="1651.88" cy="49.5" r="7.8" fill="#fff" stroke="#000" stroke-width="1.5"/>
<path d="M1651.38,41.7 A7.8,7.8 0 0 1 1651.38,57.3 Z" fill="#000"/>
<circle cx="1669.84" cy="48.3" r="7.8" fill="#fff" stroke="#000" stroke-width="1.5"/>
<path d="M1669.34,40.5 A7.8,7.8 0 0 1 1669.34,56.1 Z" fill="#000"/>
<circle cx="1687.79" cy="46.9" r="7.8" fill="#fff" stroke="#000" stroke-width="1.5"/>
<path d="M1687.29,39.1 A7.8,7.8 0 0 1 1687.29,54.7 Z" fill="#000"/>
<circle cx="1705.74" cy="45.4" r="7.8" fill="#fff" stroke="#000" stroke-width="1.5"/>
<path d="M1705.24,37.6 A7.8,7.8 0 0 1 1705.24,53.2 Z" fill="#000"/>
<circle cx="1723.7" cy="44.2" r="7.8" fill="#fff" stroke="#000" stroke-width="1.5"/>
<path d="M1723.2,36.4 A7.8,7.8 0 0 1 1723.2,52 Z" fill="#000"/>
</g>
<line x1="1012.1" y1="139.5" x2="1076.4" y2="139.5" stroke="#ff0000" stroke-width="1.2"/>
<path d="M1044,128.6 L1053.27,144.65 L1034.73,144.65 Z" fill="#fff" stroke="#ff0000" stroke-width="1.3" stroke-linejoin="miter"/>
<path d="M1044,128.6 L1053.27,144.65 L1044,144.65 Z" fill="#ff0000"/>
<text transform="translate(1083.6 149.2) scale(1 1.04)" font-size="29.2" fill="#ff0000" text-anchor="start" font-weight="normal">under UV</text>
<line x1="1012.1" y1="173.9" x2="1076.4" y2="173.9" stroke="#000" stroke-width="1.2"/>
<circle cx="1044" cy="173.9" r="7.8" fill="#fff" stroke="#000" stroke-width="1.5"/>
<path d="M1043.5,166.1 A7.8,7.8 0 0 1 1043.5,181.7 Z" fill="#000"/>
<text transform="translate(1083.6 184) scale(1 1.04)" font-size="29.2" fill="#000" text-anchor="start" font-weight="normal">under dark</text>
<text transform="translate(1004.3 87.3) scale(1 1.04)" font-size="50" fill="#000" text-anchor="start" font-weight="bold">(b)</text>
<rect x="1583.9" y="80.5" width="142.6" height="50.6" fill="#fff" stroke="#000" stroke-width="1.3"/>
<text transform="translate(1600.7 118.9) scale(1 1.04)" font-size="35.5" fill="#000" text-anchor="start" font-weight="normal">50ZTO</text>
<rect x="1410.3" y="190.5" width="322.4" height="183.1" fill="#fff" stroke="none"/>
<line x1="1410.3" y1="373.6" x2="1404.8" y2="373.6" stroke="#000" stroke-width="2"/>
<line x1="1410.3" y1="367.28" x2="1408.1" y2="367.28" stroke="#000" stroke-width="1.4"/>
<line x1="1410.3" y1="363.58" x2="1408.1" y2="363.58" stroke="#000" stroke-width="1.4"/>
<line x1="1410.3" y1="360.96" x2="1408.1" y2="360.96" stroke="#000" stroke-width="1.4"/>
<line x1="1410.3" y1="358.92" x2="1408.1" y2="358.92" stroke="#000" stroke-width="1.4"/>
<line x1="1410.3" y1="357.26" x2="1408.1" y2="357.26" stroke="#000" stroke-width="1.4"/>
<line x1="1410.3" y1="355.85" x2="1408.1" y2="355.85" stroke="#000" stroke-width="1.4"/>
<line x1="1410.3" y1="354.64" x2="1408.1" y2="354.64" stroke="#000" stroke-width="1.4"/>
<line x1="1410.3" y1="353.56" x2="1408.1" y2="353.56" stroke="#000" stroke-width="1.4"/>
<line x1="1410.3" y1="352.6" x2="1404.8" y2="352.6" stroke="#000" stroke-width="2"/>
<line x1="1410.3" y1="346.28" x2="1408.1" y2="346.28" stroke="#000" stroke-width="1.4"/>
<line x1="1410.3" y1="342.58" x2="1408.1" y2="342.58" stroke="#000" stroke-width="1.4"/>
<line x1="1410.3" y1="339.96" x2="1408.1" y2="339.96" stroke="#000" stroke-width="1.4"/>
<line x1="1410.3" y1="337.92" x2="1408.1" y2="337.92" stroke="#000" stroke-width="1.4"/>
<line x1="1410.3" y1="336.26" x2="1408.1" y2="336.26" stroke="#000" stroke-width="1.4"/>
<line x1="1410.3" y1="334.85" x2="1408.1" y2="334.85" stroke="#000" stroke-width="1.4"/>
<line x1="1410.3" y1="333.64" x2="1408.1" y2="333.64" stroke="#000" stroke-width="1.4"/>
<line x1="1410.3" y1="332.56" x2="1408.1" y2="332.56" stroke="#000" stroke-width="1.4"/>
<line x1="1410.3" y1="331.6" x2="1404.8" y2="331.6" stroke="#000" stroke-width="2"/>
<line x1="1410.3" y1="325.28" x2="1408.1" y2="325.28" stroke="#000" stroke-width="1.4"/>
<line x1="1410.3" y1="321.58" x2="1408.1" y2="321.58" stroke="#000" stroke-width="1.4"/>
<line x1="1410.3" y1="318.96" x2="1408.1" y2="318.96" stroke="#000" stroke-width="1.4"/>
<line x1="1410.3" y1="316.92" x2="1408.1" y2="316.92" stroke="#000" stroke-width="1.4"/>
<line x1="1410.3" y1="315.26" x2="1408.1" y2="315.26" stroke="#000" stroke-width="1.4"/>
<line x1="1410.3" y1="313.85" x2="1408.1" y2="313.85" stroke="#000" stroke-width="1.4"/>
<line x1="1410.3" y1="312.64" x2="1408.1" y2="312.64" stroke="#000" stroke-width="1.4"/>
<line x1="1410.3" y1="311.56" x2="1408.1" y2="311.56" stroke="#000" stroke-width="1.4"/>
<line x1="1410.3" y1="310.6" x2="1404.8" y2="310.6" stroke="#000" stroke-width="2"/>
<line x1="1410.3" y1="304.28" x2="1408.1" y2="304.28" stroke="#000" stroke-width="1.4"/>
<line x1="1410.3" y1="300.58" x2="1408.1" y2="300.58" stroke="#000" stroke-width="1.4"/>
<line x1="1410.3" y1="297.96" x2="1408.1" y2="297.96" stroke="#000" stroke-width="1.4"/>
<line x1="1410.3" y1="295.92" x2="1408.1" y2="295.92" stroke="#000" stroke-width="1.4"/>
<line x1="1410.3" y1="294.26" x2="1408.1" y2="294.26" stroke="#000" stroke-width="1.4"/>
<line x1="1410.3" y1="292.85" x2="1408.1" y2="292.85" stroke="#000" stroke-width="1.4"/>
<line x1="1410.3" y1="291.64" x2="1408.1" y2="291.64" stroke="#000" stroke-width="1.4"/>
<line x1="1410.3" y1="290.56" x2="1408.1" y2="290.56" stroke="#000" stroke-width="1.4"/>
<line x1="1410.3" y1="289.6" x2="1404.8" y2="289.6" stroke="#000" stroke-width="2"/>
<line x1="1410.3" y1="283.28" x2="1408.1" y2="283.28" stroke="#000" stroke-width="1.4"/>
<line x1="1410.3" y1="279.58" x2="1408.1" y2="279.58" stroke="#000" stroke-width="1.4"/>
<line x1="1410.3" y1="276.96" x2="1408.1" y2="276.96" stroke="#000" stroke-width="1.4"/>
<line x1="1410.3" y1="274.92" x2="1408.1" y2="274.92" stroke="#000" stroke-width="1.4"/>
<line x1="1410.3" y1="273.26" x2="1408.1" y2="273.26" stroke="#000" stroke-width="1.4"/>
<line x1="1410.3" y1="271.85" x2="1408.1" y2="271.85" stroke="#000" stroke-width="1.4"/>
<line x1="1410.3" y1="270.64" x2="1408.1" y2="270.64" stroke="#000" stroke-width="1.4"/>
<line x1="1410.3" y1="269.56" x2="1408.1" y2="269.56" stroke="#000" stroke-width="1.4"/>
<line x1="1410.3" y1="268.6" x2="1404.8" y2="268.6" stroke="#000" stroke-width="2"/>
<line x1="1410.3" y1="262.28" x2="1408.1" y2="262.28" stroke="#000" stroke-width="1.4"/>
<line x1="1410.3" y1="258.58" x2="1408.1" y2="258.58" stroke="#000" stroke-width="1.4"/>
<line x1="1410.3" y1="255.96" x2="1408.1" y2="255.96" stroke="#000" stroke-width="1.4"/>
<line x1="1410.3" y1="253.92" x2="1408.1" y2="253.92" stroke="#000" stroke-width="1.4"/>
<line x1="1410.3" y1="252.26" x2="1408.1" y2="252.26" stroke="#000" stroke-width="1.4"/>
<line x1="1410.3" y1="250.85" x2="1408.1" y2="250.85" stroke="#000" stroke-width="1.4"/>
<line x1="1410.3" y1="249.64" x2="1408.1" y2="249.64" stroke="#000" stroke-width="1.4"/>
<line x1="1410.3" y1="248.56" x2="1408.1" y2="248.56" stroke="#000" stroke-width="1.4"/>
<line x1="1410.3" y1="247.6" x2="1404.8" y2="247.6" stroke="#000" stroke-width="2"/>
<line x1="1410.3" y1="241.28" x2="1408.1" y2="241.28" stroke="#000" stroke-width="1.4"/>
<line x1="1410.3" y1="237.58" x2="1408.1" y2="237.58" stroke="#000" stroke-width="1.4"/>
<line x1="1410.3" y1="234.96" x2="1408.1" y2="234.96" stroke="#000" stroke-width="1.4"/>
<line x1="1410.3" y1="232.92" x2="1408.1" y2="232.92" stroke="#000" stroke-width="1.4"/>
<line x1="1410.3" y1="231.26" x2="1408.1" y2="231.26" stroke="#000" stroke-width="1.4"/>
<line x1="1410.3" y1="229.85" x2="1408.1" y2="229.85" stroke="#000" stroke-width="1.4"/>
<line x1="1410.3" y1="228.64" x2="1408.1" y2="228.64" stroke="#000" stroke-width="1.4"/>
<line x1="1410.3" y1="227.56" x2="1408.1" y2="227.56" stroke="#000" stroke-width="1.4"/>
<line x1="1410.3" y1="226.6" x2="1404.8" y2="226.6" stroke="#000" stroke-width="2"/>
<line x1="1410.3" y1="220.28" x2="1408.1" y2="220.28" stroke="#000" stroke-width="1.4"/>
<line x1="1410.3" y1="216.58" x2="1408.1" y2="216.58" stroke="#000" stroke-width="1.4"/>
<line x1="1410.3" y1="213.96" x2="1408.1" y2="213.96" stroke="#000" stroke-width="1.4"/>
<line x1="1410.3" y1="211.92" x2="1408.1" y2="211.92" stroke="#000" stroke-width="1.4"/>
<line x1="1410.3" y1="210.26" x2="1408.1" y2="210.26" stroke="#000" stroke-width="1.4"/>
<line x1="1410.3" y1="208.85" x2="1408.1" y2="208.85" stroke="#000" stroke-width="1.4"/>
<line x1="1410.3" y1="207.64" x2="1408.1" y2="207.64" stroke="#000" stroke-width="1.4"/>
<line x1="1410.3" y1="206.56" x2="1408.1" y2="206.56" stroke="#000" stroke-width="1.4"/>
<line x1="1410.3" y1="205.6" x2="1404.8" y2="205.6" stroke="#000" stroke-width="2"/>
<line x1="1410.3" y1="199.28" x2="1408.1" y2="199.28" stroke="#000" stroke-width="1.4"/>
<line x1="1410.3" y1="195.58" x2="1408.1" y2="195.58" stroke="#000" stroke-width="1.4"/>
<line x1="1410.3" y1="192.96" x2="1408.1" y2="192.96" stroke="#000" stroke-width="1.4"/>
<text transform="translate(1392.8 384.2) scale(1 1.04)" font-size="28" fill="#000" text-anchor="end">10<tspan dy="-10.67" font-size="19">0</tspan></text>
<text transform="translate(1392.8 342.2) scale(1 1.04)" font-size="28" fill="#000" text-anchor="end">10<tspan dy="-10.67" font-size="19">2</tspan></text>
<text transform="translate(1392.8 300.2) scale(1 1.04)" font-size="28" fill="#000" text-anchor="end">10<tspan dy="-10.67" font-size="19">4</tspan></text>
<text transform="translate(1392.8 258.2) scale(1 1.04)" font-size="28" fill="#000" text-anchor="end">10<tspan dy="-10.67" font-size="19">6</tspan></text>
<text transform="translate(1392.8 216.2) scale(1 1.04)" font-size="28" fill="#000" text-anchor="end">10<tspan dy="-10.67" font-size="19">8</tspan></text>
<line x1="1414" y1="373.6" x2="1414" y2="379.1" stroke="#000" stroke-width="2"/>
<line x1="1414" y1="190.5" x2="1414" y2="194.5" stroke="#000" stroke-width="2"/>
<text transform="translate(1414 405.5) scale(1 1.04)" font-size="28" fill="#000" text-anchor="middle" font-weight="normal">-20</text>
<line x1="1451.02" y1="373.6" x2="1451.02" y2="376.6" stroke="#000" stroke-width="2"/>
<line x1="1451.02" y1="190.5" x2="1451.02" y2="193.5" stroke="#000" stroke-width="2"/>
<line x1="1488.05" y1="373.6" x2="1488.05" y2="379.1" stroke="#000" stroke-width="2"/>
<line x1="1488.05" y1="190.5" x2="1488.05" y2="194.5" stroke="#000" stroke-width="2"/>
<text transform="translate(1488.05 405.5) scale(1 1.04)" font-size="28" fill="#000" text-anchor="middle" font-weight="normal">-10</text>
<line x1="1525.07" y1="373.6" x2="1525.07" y2="376.6" stroke="#000" stroke-width="2"/>
<line x1="1525.07" y1="190.5" x2="1525.07" y2="193.5" stroke="#000" stroke-width="2"/>
<line x1="1562.1" y1="373.6" x2="1562.1" y2="379.1" stroke="#000" stroke-width="2"/>
<line x1="1562.1" y1="190.5" x2="1562.1" y2="194.5" stroke="#000" stroke-width="2"/>
<text transform="translate(1562.1 405.5) scale(1 1.04)" font-size="28" fill="#000" text-anchor="middle" font-weight="normal">0</text>
<line x1="1599.12" y1="373.6" x2="1599.12" y2="376.6" stroke="#000" stroke-width="2"/>
<line x1="1599.12" y1="190.5" x2="1599.12" y2="193.5" stroke="#000" stroke-width="2"/>
<line x1="1636.15" y1="373.6" x2="1636.15" y2="379.1" stroke="#000" stroke-width="2"/>
<line x1="1636.15" y1="190.5" x2="1636.15" y2="194.5" stroke="#000" stroke-width="2"/>
<text transform="translate(1636.15 405.5) scale(1 1.04)" font-size="28" fill="#000" text-anchor="middle" font-weight="normal">10</text>
<line x1="1673.17" y1="373.6" x2="1673.17" y2="376.6" stroke="#000" stroke-width="2"/>
<line x1="1673.17" y1="190.5" x2="1673.17" y2="193.5" stroke="#000" stroke-width="2"/>
<line x1="1710.2" y1="373.6" x2="1710.2" y2="379.1" stroke="#000" stroke-width="2"/>
<line x1="1710.2" y1="190.5" x2="1710.2" y2="194.5" stroke="#000" stroke-width="2"/>
<text transform="translate(1710.2 405.5) scale(1 1.04)" font-size="28" fill="#000" text-anchor="middle" font-weight="normal">20</text>
<path d="M1414.03,227.29 L1421.5,221.56 L1428.72,208.62 L1436.18,219.82 L1443.65,213.1 L1450.87,225.3 L1458.33,221.07 L1465.8,215.59 L1473.02,222.81 L1480.48,220.32 L1487.95,208.12 L1495.42,227.29 L1502.38,257.65 L1510.1,291.75 L1517.32,311.41 L1524.78,322.36 L1532.25,330.07 L1539.47,335.55 L1547.18,339.78 L1554.65,343.02 L1562.12,345.51 L1569.33,348.49 L1576.8,350.73 L1584.27,352.22 L1591.48,353.97 L1598.95,355.71 L1606.17,356.95 L1613.63,358.2 L1621.1,359.19 L1628.57,360.19 L1636.03,361.18 L1643.5,362.18 L1650.97,362.93 L1658.43,363.67 L1665.9,364.17 L1673.36,364.67 L1680.83,365.17 L1688.3,365.66 L1695.27,366.16 L1702.73,366.41 L1710.2,366.91" fill="none" stroke="#000" stroke-width="0.9" stroke-linejoin="round" stroke-dasharray="1.2,1.6"/>
<circle cx="1414.03" cy="227.29" r="4.4" fill="url(#bg)"/>
<circle cx="1421.5" cy="221.56" r="4.4" fill="url(#bg)"/>
<circle cx="1428.72" cy="208.62" r="4.4" fill="url(#bg)"/>
<circle cx="1436.18" cy="219.82" r="4.4" fill="url(#bg)"/>
<circle cx="1443.65" cy="213.1" r="4.4" fill="url(#bg)"/>
<circle cx="1450.87" cy="225.3" r="4.4" fill="url(#bg)"/>
<circle cx="1458.33" cy="221.07" r="4.4" fill="url(#bg)"/>
<circle cx="1465.8" cy="215.59" r="4.4" fill="url(#bg)"/>
<circle cx="1473.02" cy="222.81" r="4.4" fill="url(#bg)"/>
<circle cx="1480.48" cy="220.32" r="4.4" fill="url(#bg)"/>
<circle cx="1487.95" cy="208.12" r="4.4" fill="url(#bg)"/>
<circle cx="1495.42" cy="227.29" r="4.4" fill="url(#bg)"/>
<circle cx="1502.38" cy="257.65" r="4.4" fill="url(#bg)"/>
<circle cx="1510.1" cy="291.75" r="4.4" fill="url(#bg)"/>
<circle cx="1517.32" cy="311.41" r="4.4" fill="url(#bg)"/>
<circle cx="1524.78" cy="322.36" r="4.4" fill="url(#bg)"/>
<circle cx="1532.25" cy="330.07" r="4.4" fill="url(#bg)"/>
<circle cx="1539.47" cy="335.55" r="4.4" fill="url(#bg)"/>
<circle cx="1547.18" cy="339.78" r="4.4" fill="url(#bg)"/>
<circle cx="1554.65" cy="343.02" r="4.4" fill="url(#bg)"/>
<circle cx="1562.12" cy="345.51" r="4.4" fill="url(#bg)"/>
<circle cx="1569.33" cy="348.49" r="4.4" fill="url(#bg)"/>
<circle cx="1576.8" cy="350.73" r="4.4" fill="url(#bg)"/>
<circle cx="1584.27" cy="352.22" r="4.4" fill="url(#bg)"/>
<circle cx="1591.48" cy="353.97" r="4.4" fill="url(#bg)"/>
<circle cx="1598.95" cy="355.71" r="4.4" fill="url(#bg)"/>
<circle cx="1606.17" cy="356.95" r="4.4" fill="url(#bg)"/>
<circle cx="1613.63" cy="358.2" r="4.4" fill="url(#bg)"/>
<circle cx="1621.1" cy="359.19" r="4.4" fill="url(#bg)"/>
<circle cx="1628.57" cy="360.19" r="4.4" fill="url(#bg)"/>
<circle cx="1636.03" cy="361.18" r="4.4" fill="url(#bg)"/>
<circle cx="1643.5" cy="362.18" r="4.4" fill="url(#bg)"/>
<circle cx="1650.97" cy="362.93" r="4.4" fill="url(#bg)"/>
<circle cx="1658.43" cy="363.67" r="4.4" fill="url(#bg)"/>
<circle cx="1665.9" cy="364.17" r="4.4" fill="url(#bg)"/>
<circle cx="1673.36" cy="364.67" r="4.4" fill="url(#bg)"/>
<circle cx="1680.83" cy="365.17" r="4.4" fill="url(#bg)"/>
<circle cx="1688.3" cy="365.66" r="4.4" fill="url(#bg)"/>
<circle cx="1695.27" cy="366.16" r="4.4" fill="url(#bg)"/>
<circle cx="1702.73" cy="366.41" r="4.4" fill="url(#bg)"/>
<circle cx="1710.2" cy="366.91" r="4.4" fill="url(#bg)"/>
<rect x="1410.3" y="190.5" width="322.4" height="183.1" fill="none" stroke="#000" stroke-width="2.6"/>
<text transform="translate(1525.5 436.1) scale(1 1.04)" font-size="34.6" fill="#000" text-anchor="start"><tspan dy="0" font-size="34.6">V</tspan><tspan dy="8.46" font-size="23">GS</tspan><tspan dy="-8.46" font-size="34.6">(V)</tspan></text>
<text transform="translate(1347.5 364.2) rotate(-90) scale(1 1.04)" font-size="34" fill="#000" text-anchor="start" font-weight="normal">Sensitivity</text>
<rect x="133.3" y="587.1" width="368.2" height="459.5" fill="#ffffcc"/>
<line x1="133.3" y1="587.1" x2="133.3" y2="1046.6" stroke="#c4c4c4" stroke-width="1.3"/>
<line x1="501.9" y1="587.1" x2="501.9" y2="1046.6" stroke="#c0c0c6" stroke-width="1.8"/>
<g clip-path="url(#clipC)">
<path d="M121.6,955.8 L121.95,986.92 L122.3,959.69 L122.65,991.6 L123,964.47 L123.35,993.47 L123.7,969.6 L124.05,995.3 L124.4,972.33 L124.75,996.7 L125.1,973.27 L125.45,998.1 L125.8,972.4 L126.15,996.9 L126.5,969.13 L126.85,995.5 L127.2,966.57 L127.55,994.47 L127.9,965.76 L128.25,993.53 L128.6,966.17 L128.95,993.8 L129.3,968.22 L129.65,994.73 L130,968.8 L130.35,994.27 L130.7,968.8 L131.05,992.4 L131.4,968.8 L131.75,990.75 L132.1,968.8 L132.45,989.47" fill="none" stroke="#ff0000" stroke-width="1.6" stroke-linejoin="round"/>
<path d="M133,992 C133.03,976.67 133.15,935.33 133.2,900 C133.25,864.67 133.15,805.05 133.3,780 C133.45,754.95 133.75,757.8 134.1,749.7 C134.45,741.6 134.88,737.1 135.4,731.4 C135.92,725.7 136.5,719.97 137.2,715.5 C137.9,711.03 138.58,707.85 139.6,704.6 C140.62,701.35 141.67,698.85 143.3,696 C144.93,693.15 147.17,690.13 149.4,687.5 C151.63,684.87 153.67,682.43 156.7,680.2 C159.73,677.97 163.75,675.82 167.6,674.1 C171.45,672.38 174.72,671.42 179.8,669.9 C184.88,668.38 190.98,666.53 198.1,665 C205.22,663.47 214.38,661.87 222.5,660.7 C230.62,659.53 239.72,658.72 246.8,658 C253.88,657.28 256.13,657.07 265,656.4 C273.87,655.73 288.42,654.75 300,654 C311.58,653.25 322.83,652.47 334.5,651.9 C346.17,651.33 357.57,651.03 370,650.6 C382.43,650.17 397.43,649.63 409.1,649.3 C420.77,648.97 429.85,648.88 440,648.6 C450.15,648.32 460.25,647.93 470,647.6 C479.75,647.27 493.25,646.88 498.5,646.6 C503.75,646.32 500.67,645.8 501.5,645.9 C502.33,646 502.08,646.7 503.5,647.2 C504.92,647.7 506.47,648.25 510,648.9 C513.53,649.55 518.87,650.43 524.7,651.1 C530.53,651.77 537.55,652.33 545,652.9 C552.45,653.47 560.23,653.93 569.4,654.5 C578.57,655.07 588.82,655.67 600,656.3 C611.18,656.93 624.83,657.77 636.5,658.3 C648.17,658.83 658.82,659.13 670,659.5 C681.18,659.87 691.93,660.15 703.6,660.5 C715.27,660.85 728.82,661.23 740,661.6 C751.18,661.97 759.03,662.37 770.7,662.7 C782.37,663.03 795.83,663.3 810,663.6 C824.17,663.9 848.08,664.35 855.7,664.5" fill="none" stroke="#ff0000" stroke-width="3" stroke-linejoin="round" stroke-linecap="round"/>
</g>
<line x1="367.1" y1="777.3" x2="367.1" y2="960.2" stroke="#c4c4c4" stroke-width="1"/>
<line x1="442.5" y1="777.3" x2="442.5" y2="960.2" stroke="#c4c4c4" stroke-width="1"/>
<line x1="517.9" y1="777.3" x2="517.9" y2="960.2" stroke="#c4c4c4" stroke-width="1"/>
<line x1="593.31" y1="777.3" x2="593.31" y2="960.2" stroke="#c4c4c4" stroke-width="1"/>
<line x1="668.71" y1="777.3" x2="668.71" y2="960.2" stroke="#c4c4c4" stroke-width="1"/>
<line x1="744.11" y1="777.3" x2="744.11" y2="960.2" stroke="#c4c4c4" stroke-width="1"/>
<line x1="819.51" y1="777.3" x2="819.51" y2="960.2" stroke="#c4c4c4" stroke-width="1"/>
<path d="M362.9,958.2 C363.57,958.2 366.02,960.35 366.9,958.2 C367.78,956.05 367.57,950.2 368.2,945.3 C368.83,940.4 369.6,934.03 370.7,928.8 C371.8,923.57 373.28,918.32 374.8,913.9 C376.32,909.48 377.58,906.43 379.8,902.3 C382.02,898.17 385.35,892.82 388.1,889.1 C390.85,885.38 393.55,882.62 396.3,880 C399.05,877.38 401.83,875.47 404.6,873.4 C407.37,871.33 410.15,869.38 412.9,867.6 C415.65,865.82 418.35,864.22 421.1,862.7 C423.85,861.18 425.82,860.43 429.4,858.5 C432.98,856.57 440.4,852.33 442.6,851.1" fill="none" stroke="#ff0000" stroke-width="3" stroke-linejoin="round" stroke-linecap="round"/>
<path d="M442.6,851.1 C442.73,852.08 443.12,855.35 443.4,857 C443.68,858.65 443.6,859.23 444.3,861 C445,862.77 445.95,865.4 447.6,867.6 C449.25,869.8 451.72,872.27 454.2,874.2 C456.68,876.13 459.75,877.77 462.5,879.2 C465.25,880.63 467.95,881.7 470.7,882.8 C473.45,883.9 476.23,884.88 479,885.8 C481.77,886.72 484.55,887.53 487.3,888.3 C490.05,889.07 492.75,889.72 495.5,890.4 C498.25,891.08 500.08,891.65 503.8,892.4 C507.52,893.15 515.47,894.48 517.8,894.9" fill="none" stroke="#ff0000" stroke-width="3" stroke-linejoin="round" stroke-linecap="round"/>
<path d="M517.8,894.9 C517.95,893.1 518.28,887.82 518.7,884.1 C519.12,880.38 519.48,876.17 520.3,872.6 C521.12,869.03 522.22,865.73 523.6,862.7 C524.98,859.67 526.4,857.17 528.6,854.4 C530.8,851.63 534.05,848.3 536.8,846.1 C539.55,843.9 542.33,842.72 545.1,841.2 C547.87,839.68 549.27,838.67 553.4,837 C557.53,835.33 563.28,833.4 569.9,831.2 C576.52,829 589.23,825.03 593.1,823.8" fill="none" stroke="#ff0000" stroke-width="3" stroke-linejoin="round" stroke-linecap="round"/>
<path d="M593.1,823.8 C593.27,825.32 593.25,830 594.1,832.9 C594.95,835.8 596.13,838.58 598.2,841.2 C600.27,843.82 603.18,846.27 606.5,848.6 C609.82,850.93 613.42,853 618.1,855.2 C622.78,857.4 629.1,859.87 634.6,861.8 C640.1,863.73 645.45,865.28 651.1,866.8 C656.75,868.32 665.6,870.22 668.5,870.9" fill="none" stroke="#ff0000" stroke-width="3" stroke-linejoin="round" stroke-linecap="round"/>
<path d="M668.5,870.9 C668.58,868.98 668.73,862.98 669,859.4 C669.27,855.82 669.5,852.43 670.1,849.4 C670.7,846.37 671.35,843.82 672.6,841.2 C673.85,838.58 675.67,835.77 677.6,833.7 C679.53,831.63 681.72,830.37 684.2,828.8 C686.68,827.23 689.75,825.68 692.5,824.3 C695.25,822.92 696.57,822.05 700.7,820.5 C704.83,818.95 710.13,817.02 717.3,815 C724.47,812.98 739.3,809.5 743.7,808.4" fill="none" stroke="#ff0000" stroke-width="3" stroke-linejoin="round" stroke-linecap="round"/>
<path d="M743.7,808.4 C743.83,809.58 743.82,812.93 744.5,815.5 C745.18,818.07 746,821.03 747.8,823.8 C749.6,826.57 752.13,829.48 755.3,832.1 C758.47,834.72 762.12,837.17 766.8,839.5 C771.48,841.83 777.88,844.03 783.4,846.1 C788.92,848.17 793.57,850.1 799.9,851.9 C806.23,853.7 817.82,856.07 821.4,856.9" fill="none" stroke="#ff0000" stroke-width="3" stroke-linejoin="round" stroke-linecap="round"/>
<rect x="362.8" y="777.3" width="459.6" height="182.9" fill="none" stroke="#000" stroke-width="1.7"/>
<line x1="362.8" y1="958.5" x2="354.3" y2="958.5" stroke="#000" stroke-width="1.7"/>
<text transform="translate(348.8 967.1) scale(1 1.04)" font-size="25" fill="#000" text-anchor="end" font-weight="normal">0</text>
<line x1="362.8" y1="932.9" x2="358.5" y2="932.9" stroke="#000" stroke-width="1.7"/>
<line x1="362.8" y1="907.3" x2="354.3" y2="907.3" stroke="#000" stroke-width="1.7"/>
<text transform="translate(348.8 915.9) scale(1 1.04)" font-size="25" fill="#000" text-anchor="end" font-weight="normal">30</text>
<line x1="362.8" y1="881.7" x2="358.5" y2="881.7" stroke="#000" stroke-width="1.7"/>
<line x1="362.8" y1="856.1" x2="354.3" y2="856.1" stroke="#000" stroke-width="1.7"/>
<text transform="translate(348.8 864.7) scale(1 1.04)" font-size="25" fill="#000" text-anchor="end" font-weight="normal">60</text>
<line x1="362.8" y1="830.5" x2="358.5" y2="830.5" stroke="#000" stroke-width="1.7"/>
<line x1="362.8" y1="804.9" x2="354.3" y2="804.9" stroke="#000" stroke-width="1.7"/>
<text transform="translate(348.8 813.5) scale(1 1.04)" font-size="25" fill="#000" text-anchor="end" font-weight="normal">90</text>
<line x1="362.8" y1="779.3" x2="358.5" y2="779.3" stroke="#000" stroke-width="1.7"/>
<line x1="367.1" y1="960.2" x2="367.1" y2="968.5" stroke="#000" stroke-width="1.7"/>
<line x1="367.1" y1="777.3" x2="367.1" y2="769" stroke="#000" stroke-width="1.7"/>
<text transform="translate(367.1 994.6) scale(1 1.04)" font-size="25" fill="#000" text-anchor="middle" font-weight="normal">30</text>
<line x1="404.8" y1="960.2" x2="404.8" y2="964.4" stroke="#000" stroke-width="1.7"/>
<line x1="404.8" y1="777.3" x2="404.8" y2="773.1" stroke="#000" stroke-width="1.7"/>
<line x1="442.5" y1="960.2" x2="442.5" y2="968.5" stroke="#000" stroke-width="1.7"/>
<line x1="442.5" y1="777.3" x2="442.5" y2="769" stroke="#000" stroke-width="1.7"/>
<text transform="translate(442.5 994.6) scale(1 1.04)" font-size="25" fill="#000" text-anchor="middle" font-weight="normal">630</text>
<line x1="480.2" y1="960.2" x2="480.2" y2="964.4" stroke="#000" stroke-width="1.7"/>
<line x1="480.2" y1="777.3" x2="480.2" y2="773.1" stroke="#000" stroke-width="1.7"/>
<line x1="517.9" y1="960.2" x2="517.9" y2="968.5" stroke="#000" stroke-width="1.7"/>
<line x1="517.9" y1="777.3" x2="517.9" y2="769" stroke="#000" stroke-width="1.7"/>
<text transform="translate(517.9 994.6) scale(1 1.04)" font-size="25" fill="#000" text-anchor="middle" font-weight="normal">1230</text>
<line x1="555.61" y1="960.2" x2="555.61" y2="964.4" stroke="#000" stroke-width="1.7"/>
<line x1="555.61" y1="777.3" x2="555.61" y2="773.1" stroke="#000" stroke-width="1.7"/>
<line x1="593.31" y1="960.2" x2="593.31" y2="968.5" stroke="#000" stroke-width="1.7"/>
<line x1="593.31" y1="777.3" x2="593.31" y2="769" stroke="#000" stroke-width="1.7"/>
<text transform="translate(593.31 994.6) scale(1 1.04)" font-size="25" fill="#000" text-anchor="middle" font-weight="normal">1830</text>
<line x1="631.01" y1="960.2" x2="631.01" y2="964.4" stroke="#000" stroke-width="1.7"/>
<line x1="631.01" y1="777.3" x2="631.01" y2="773.1" stroke="#000" stroke-width="1.7"/>
<line x1="668.71" y1="960.2" x2="668.71" y2="968.5" stroke="#000" stroke-width="1.7"/>
<line x1="668.71" y1="777.3" x2="668.71" y2="769" stroke="#000" stroke-width="1.7"/>
<text transform="translate(668.71 994.6) scale(1 1.04)" font-size="25" fill="#000" text-anchor="middle" font-weight="normal">2430</text>
<line x1="706.41" y1="960.2" x2="706.41" y2="964.4" stroke="#000" stroke-width="1.7"/>
<line x1="706.41" y1="777.3" x2="706.41" y2="773.1" stroke="#000" stroke-width="1.7"/>
<line x1="744.11" y1="960.2" x2="744.11" y2="968.5" stroke="#000" stroke-width="1.7"/>
<line x1="744.11" y1="777.3" x2="744.11" y2="769" stroke="#000" stroke-width="1.7"/>
<text transform="translate(744.11 994.6) scale(1 1.04)" font-size="25" fill="#000" text-anchor="middle" font-weight="normal">3030</text>
<line x1="781.81" y1="960.2" x2="781.81" y2="964.4" stroke="#000" stroke-width="1.7"/>
<line x1="781.81" y1="777.3" x2="781.81" y2="773.1" stroke="#000" stroke-width="1.7"/>
<line x1="819.51" y1="960.2" x2="819.51" y2="968.5" stroke="#000" stroke-width="1.7"/>
<line x1="819.51" y1="777.3" x2="819.51" y2="769" stroke="#000" stroke-width="1.7"/>
<text transform="translate(819.51 994.6) scale(1 1.04)" font-size="25" fill="#000" text-anchor="middle" font-weight="normal">3630</text>
<text transform="translate(318.6 773.2) scale(1 1.04)" font-size="25" fill="#ff0000" text-anchor="start"><tspan dy="0" font-size="25">X10</tspan><tspan dy="-10.1" font-size="15.5">-6</tspan></text>
<text transform="translate(315.3 899.4) rotate(-90) scale(1 1.04)" font-size="30.4" fill="#000" text-anchor="start"><tspan dy="0" font-size="30.4">I</tspan><tspan dy="7.69" font-size="20.5">DS</tspan><tspan dy="-7.69" font-size="30.4">(A)</tspan></text>
<text transform="translate(541.5 1021) scale(1 1.04)" font-size="30.5" fill="#000" text-anchor="start" font-weight="normal">Time(s)</text>
<text transform="translate(378.1 799.6) scale(1 1.04)" font-size="19.6" fill="#8000ff" text-anchor="start" font-weight="normal">ON</text>
<text transform="translate(460.2 799.6) scale(1 1.04)" font-size="19.6" fill="#8000ff" text-anchor="start" font-weight="normal">OFF</text>
<text transform="translate(536.8 799.6) scale(1 1.04)" font-size="19.6" fill="#8000ff" text-anchor="start" font-weight="normal">ON</text>
<text transform="translate(613.6 799.6) scale(1 1.04)" font-size="19.6" fill="#8000ff" text-anchor="start" font-weight="normal">OFF</text>
<text transform="translate(690.1 799.6) scale(1 1.04)" font-size="19.6" fill="#8000ff" text-anchor="start" font-weight="normal">ON</text>
<text transform="translate(761.9 799.6) scale(1 1.04)" font-size="19.6" fill="#8000ff" text-anchor="start" font-weight="normal">OFF</text>
<rect x="121.1" y="587.1" width="736.1" height="459.5" fill="none" stroke="#000" stroke-width="3"/>
<line x1="121.1" y1="1046.6" x2="107.9" y2="1046.6" stroke="#000" stroke-width="2.8"/>
<line x1="121.1" y1="1031.23" x2="114.3" y2="1031.23" stroke="#000" stroke-width="2.2"/>
<line x1="121.1" y1="1022.24" x2="114.3" y2="1022.24" stroke="#000" stroke-width="2.2"/>
<line x1="121.1" y1="1015.86" x2="114.3" y2="1015.86" stroke="#000" stroke-width="2.2"/>
<line x1="121.1" y1="1010.91" x2="114.3" y2="1010.91" stroke="#000" stroke-width="2.2"/>
<line x1="121.1" y1="1006.87" x2="114.3" y2="1006.87" stroke="#000" stroke-width="2.2"/>
<line x1="121.1" y1="1003.45" x2="114.3" y2="1003.45" stroke="#000" stroke-width="2.2"/>
<line x1="121.1" y1="1000.49" x2="114.3" y2="1000.49" stroke="#000" stroke-width="2.2"/>
<line x1="121.1" y1="997.88" x2="114.3" y2="997.88" stroke="#000" stroke-width="2.2"/>
<line x1="121.1" y1="995.54" x2="107.9" y2="995.54" stroke="#000" stroke-width="2.8"/>
<line x1="121.1" y1="980.17" x2="114.3" y2="980.17" stroke="#000" stroke-width="2.2"/>
<line x1="121.1" y1="971.18" x2="114.3" y2="971.18" stroke="#000" stroke-width="2.2"/>
<line x1="121.1" y1="964.8" x2="114.3" y2="964.8" stroke="#000" stroke-width="2.2"/>
<line x1="121.1" y1="959.85" x2="114.3" y2="959.85" stroke="#000" stroke-width="2.2"/>
<line x1="121.1" y1="955.81" x2="114.3" y2="955.81" stroke="#000" stroke-width="2.2"/>
<line x1="121.1" y1="952.39" x2="114.3" y2="952.39" stroke="#000" stroke-width="2.2"/>
<line x1="121.1" y1="949.43" x2="114.3" y2="949.43" stroke="#000" stroke-width="2.2"/>
<line x1="121.1" y1="946.82" x2="114.3" y2="946.82" stroke="#000" stroke-width="2.2"/>
<line x1="121.1" y1="944.48" x2="107.9" y2="944.48" stroke="#000" stroke-width="2.8"/>
<line x1="121.1" y1="929.11" x2="114.3" y2="929.11" stroke="#000" stroke-width="2.2"/>
<line x1="121.1" y1="920.12" x2="114.3" y2="920.12" stroke="#000" stroke-width="2.2"/>
<line x1="121.1" y1="913.74" x2="114.3" y2="913.74" stroke="#000" stroke-width="2.2"/>
<line x1="121.1" y1="908.79" x2="114.3" y2="908.79" stroke="#000" stroke-width="2.2"/>
<line x1="121.1" y1="904.75" x2="114.3" y2="904.75" stroke="#000" stroke-width="2.2"/>
<line x1="121.1" y1="901.33" x2="114.3" y2="901.33" stroke="#000" stroke-width="2.2"/>
<line x1="121.1" y1="898.37" x2="114.3" y2="898.37" stroke="#000" stroke-width="2.2"/>
<line x1="121.1" y1="895.76" x2="114.3" y2="895.76" stroke="#000" stroke-width="2.2"/>
<line x1="121.1" y1="893.42" x2="107.9" y2="893.42" stroke="#000" stroke-width="2.8"/>
<line x1="121.1" y1="878.05" x2="114.3" y2="878.05" stroke="#000" stroke-width="2.2"/>
<line x1="121.1" y1="869.06" x2="114.3" y2="869.06" stroke="#000" stroke-width="2.2"/>
<line x1="121.1" y1="862.68" x2="114.3" y2="862.68" stroke="#000" stroke-width="2.2"/>
<line x1="121.1" y1="857.73" x2="114.3" y2="857.73" stroke="#000" stroke-width="2.2"/>
<line x1="121.1" y1="853.69" x2="114.3" y2="853.69" stroke="#000" stroke-width="2.2"/>
<line x1="121.1" y1="850.27" x2="114.3" y2="850.27" stroke="#000" stroke-width="2.2"/>
<line x1="121.1" y1="847.31" x2="114.3" y2="847.31" stroke="#000" stroke-width="2.2"/>
<line x1="121.1" y1="844.7" x2="114.3" y2="844.7" stroke="#000" stroke-width="2.2"/>
<line x1="121.1" y1="842.36" x2="107.9" y2="842.36" stroke="#000" stroke-width="2.8"/>
<line x1="121.1" y1="826.99" x2="114.3" y2="826.99" stroke="#000" stroke-width="2.2"/>
<line x1="121.1" y1="818" x2="114.3" y2="818" stroke="#000" stroke-width="2.2"/>
<line x1="121.1" y1="811.62" x2="114.3" y2="811.62" stroke="#000" stroke-width="2.2"/>
<line x1="121.1" y1="806.67" x2="114.3" y2="806.67" stroke="#000" stroke-width="2.2"/>
<line x1="121.1" y1="802.63" x2="114.3" y2="802.63" stroke="#000" stroke-width="2.2"/>
<line x1="121.1" y1="799.21" x2="114.3" y2="799.21" stroke="#000" stroke-width="2.2"/>
<line x1="121.1" y1="796.25" x2="114.3" y2="796.25" stroke="#000" stroke-width="2.2"/>
<line x1="121.1" y1="793.64" x2="114.3" y2="793.64" stroke="#000" stroke-width="2.2"/>
<line x1="121.1" y1="791.3" x2="107.9" y2="791.3" stroke="#000" stroke-width="2.8"/>
<line x1="121.1" y1="775.93" x2="114.3" y2="775.93" stroke="#000" stroke-width="2.2"/>
<line x1="121.1" y1="766.94" x2="114.3" y2="766.94" stroke="#000" stroke-width="2.2"/>
<line x1="121.1" y1="760.56" x2="114.3" y2="760.56" stroke="#000" stroke-width="2.2"/>
<line x1="121.1" y1="755.61" x2="114.3" y2="755.61" stroke="#000" stroke-width="2.2"/>
<line x1="121.1" y1="751.57" x2="114.3" y2="751.57" stroke="#000" stroke-width="2.2"/>
<line x1="121.1" y1="748.15" x2="114.3" y2="748.15" stroke="#000" stroke-width="2.2"/>
<line x1="121.1" y1="745.19" x2="114.3" y2="745.19" stroke="#000" stroke-width="2.2"/>
<line x1="121.1" y1="742.58" x2="114.3" y2="742.58" stroke="#000" stroke-width="2.2"/>
<line x1="121.1" y1="740.24" x2="107.9" y2="740.24" stroke="#000" stroke-width="2.8"/>
<line x1="121.1" y1="724.87" x2="114.3" y2="724.87" stroke="#000" stroke-width="2.2"/>
<line x1="121.1" y1="715.88" x2="114.3" y2="715.88" stroke="#000" stroke-width="2.2"/>
<line x1="121.1" y1="709.5" x2="114.3" y2="709.5" stroke="#000" stroke-width="2.2"/>
<line x1="121.1" y1="704.55" x2="114.3" y2="704.55" stroke="#000" stroke-width="2.2"/>
<line x1="121.1" y1="700.51" x2="114.3" y2="700.51" stroke="#000" stroke-width="2.2"/>
<line x1="121.1" y1="697.09" x2="114.3" y2="697.09" stroke="#000" stroke-width="2.2"/>
<line x1="121.1" y1="694.13" x2="114.3" y2="694.13" stroke="#000" stroke-width="2.2"/>
<line x1="121.1" y1="691.52" x2="114.3" y2="691.52" stroke="#000" stroke-width="2.2"/>
<line x1="121.1" y1="689.18" x2="107.9" y2="689.18" stroke="#000" stroke-width="2.8"/>
<line x1="121.1" y1="673.81" x2="114.3" y2="673.81" stroke="#000" stroke-width="2.2"/>
<line x1="121.1" y1="664.82" x2="114.3" y2="664.82" stroke="#000" stroke-width="2.2"/>
<line x1="121.1" y1="658.44" x2="114.3" y2="658.44" stroke="#000" stroke-width="2.2"/>
<line x1="121.1" y1="653.49" x2="114.3" y2="653.49" stroke="#000" stroke-width="2.2"/>
<line x1="121.1" y1="649.45" x2="114.3" y2="649.45" stroke="#000" stroke-width="2.2"/>
<line x1="121.1" y1="646.03" x2="114.3" y2="646.03" stroke="#000" stroke-width="2.2"/>
<line x1="121.1" y1="643.07" x2="114.3" y2="643.07" stroke="#000" stroke-width="2.2"/>
<line x1="121.1" y1="640.46" x2="114.3" y2="640.46" stroke="#000" stroke-width="2.2"/>
<line x1="121.1" y1="638.12" x2="107.9" y2="638.12" stroke="#000" stroke-width="2.8"/>
<line x1="121.1" y1="622.75" x2="114.3" y2="622.75" stroke="#000" stroke-width="2.2"/>
<line x1="121.1" y1="613.76" x2="114.3" y2="613.76" stroke="#000" stroke-width="2.2"/>
<line x1="121.1" y1="607.38" x2="114.3" y2="607.38" stroke="#000" stroke-width="2.2"/>
<line x1="121.1" y1="602.43" x2="114.3" y2="602.43" stroke="#000" stroke-width="2.2"/>
<line x1="121.1" y1="598.39" x2="114.3" y2="598.39" stroke="#000" stroke-width="2.2"/>
<line x1="121.1" y1="594.97" x2="114.3" y2="594.97" stroke="#000" stroke-width="2.2"/>
<line x1="121.1" y1="592.01" x2="114.3" y2="592.01" stroke="#000" stroke-width="2.2"/>
<line x1="121.1" y1="589.4" x2="114.3" y2="589.4" stroke="#000" stroke-width="2.2"/>
<line x1="121.1" y1="587.06" x2="107.9" y2="587.06" stroke="#000" stroke-width="2.8"/>
<text transform="translate(101.7 1061.8) scale(1 1.04)" font-size="35" fill="#000" text-anchor="end">10<tspan dy="-13.56" font-size="24">-12</tspan></text>
<text transform="translate(101.7 959.68) scale(1 1.04)" font-size="35" fill="#000" text-anchor="end">10<tspan dy="-13.56" font-size="24">-10</tspan></text>
<text transform="translate(101.7 857.56) scale(1 1.04)" font-size="35" fill="#000" text-anchor="end">10<tspan dy="-13.56" font-size="24">-8</tspan></text>
<text transform="translate(101.7 755.44) scale(1 1.04)" font-size="35" fill="#000" text-anchor="end">10<tspan dy="-13.56" font-size="24">-6</tspan></text>
<text transform="translate(101.7 653.32) scale(1 1.04)" font-size="35" fill="#000" text-anchor="end">10<tspan dy="-13.56" font-size="24">-4</tspan></text>
<line x1="121.1" y1="1046.6" x2="121.1" y2="1059.6" stroke="#000" stroke-width="2.8"/>
<line x1="121.1" y1="587.1" x2="121.1" y2="600.1" stroke="#000" stroke-width="2.8"/>
<text transform="translate(121.1 1096.6) scale(1 1.04)" font-size="35" fill="#000" text-anchor="middle" font-weight="normal">0</text>
<line x1="182.81" y1="1046.6" x2="182.81" y2="1053.4" stroke="#000" stroke-width="2.4"/>
<line x1="182.81" y1="587.1" x2="182.81" y2="593.9" stroke="#000" stroke-width="2.4"/>
<line x1="244.52" y1="1046.6" x2="244.52" y2="1059.6" stroke="#000" stroke-width="2.8"/>
<line x1="244.52" y1="587.1" x2="244.52" y2="600.1" stroke="#000" stroke-width="2.8"/>
<text transform="translate(244.52 1096.6) scale(1 1.04)" font-size="35" fill="#000" text-anchor="middle" font-weight="normal">300</text>
<line x1="306.23" y1="1046.6" x2="306.23" y2="1053.4" stroke="#000" stroke-width="2.4"/>
<line x1="306.23" y1="587.1" x2="306.23" y2="593.9" stroke="#000" stroke-width="2.4"/>
<line x1="367.94" y1="1046.6" x2="367.94" y2="1059.6" stroke="#000" stroke-width="2.8"/>
<line x1="367.94" y1="587.1" x2="367.94" y2="600.1" stroke="#000" stroke-width="2.8"/>
<text transform="translate(367.94 1096.6) scale(1 1.04)" font-size="35" fill="#000" text-anchor="middle" font-weight="normal">600</text>
<line x1="429.65" y1="1046.6" x2="429.65" y2="1053.4" stroke="#000" stroke-width="2.4"/>
<line x1="429.65" y1="587.1" x2="429.65" y2="593.9" stroke="#000" stroke-width="2.4"/>
<line x1="491.36" y1="1046.6" x2="491.36" y2="1059.6" stroke="#000" stroke-width="2.8"/>
<line x1="491.36" y1="587.1" x2="491.36" y2="600.1" stroke="#000" stroke-width="2.8"/>
<text transform="translate(491.36 1096.6) scale(1 1.04)" font-size="35" fill="#000" text-anchor="middle" font-weight="normal">900</text>
<line x1="553.07" y1="1046.6" x2="553.07" y2="1053.4" stroke="#000" stroke-width="2.4"/>
<line x1="553.07" y1="587.1" x2="553.07" y2="593.9" stroke="#000" stroke-width="2.4"/>
<line x1="614.78" y1="1046.6" x2="614.78" y2="1059.6" stroke="#000" stroke-width="2.8"/>
<line x1="614.78" y1="587.1" x2="614.78" y2="600.1" stroke="#000" stroke-width="2.8"/>
<text transform="translate(614.78 1096.6) scale(1 1.04)" font-size="35" fill="#000" text-anchor="middle" font-weight="normal">1200</text>
<line x1="676.49" y1="1046.6" x2="676.49" y2="1053.4" stroke="#000" stroke-width="2.4"/>
<line x1="676.49" y1="587.1" x2="676.49" y2="593.9" stroke="#000" stroke-width="2.4"/>
<line x1="738.2" y1="1046.6" x2="738.2" y2="1059.6" stroke="#000" stroke-width="2.8"/>
<line x1="738.2" y1="587.1" x2="738.2" y2="600.1" stroke="#000" stroke-width="2.8"/>
<text transform="translate(738.2 1096.6) scale(1 1.04)" font-size="35" fill="#000" text-anchor="middle" font-weight="normal">1500</text>
<line x1="799.91" y1="1046.6" x2="799.91" y2="1053.4" stroke="#000" stroke-width="2.4"/>
<line x1="799.91" y1="587.1" x2="799.91" y2="593.9" stroke="#000" stroke-width="2.4"/>
<text transform="translate(355.5 1140.6) scale(1 1.04)" font-size="42.3" fill="#000" text-anchor="start" font-weight="normal">Time(s)</text>
<text transform="translate(41.2 821.3) rotate(-90) scale(1 1.04)" font-size="42" fill="#000" text-anchor="start"><tspan dy="0" font-size="42">I</tspan><tspan dy="10.58" font-size="28">DS</tspan><tspan dy="-10.58" font-size="42">(A)</tspan></text>
<text transform="translate(137.6 642.7) scale(1 1.04)" font-size="50" fill="#000" text-anchor="start" font-weight="bold">(c)</text>
<text transform="translate(275.8 624.7) scale(1 1.04)" font-size="26" fill="#8000ff" text-anchor="start" font-weight="normal">UV ON</text>
<text transform="translate(655.7 626.3) scale(1 1.04)" font-size="26" fill="#8000ff" text-anchor="start" font-weight="normal">UV OFF</text>
<text transform="translate(558.7 715.3) scale(1 1.04)" font-size="29" fill="#000" text-anchor="start"><tspan dy="0" font-size="29">V</tspan><tspan dy="7.31" font-size="24">DS</tspan><tspan dy="-7.31" font-size="29"> 1V,&#160; V</tspan><tspan dy="7.31" font-size="24">GS</tspan><tspan dy="-7.31" font-size="29"> -7V</tspan></text>
<rect x="1006.7" y="587.4" width="370.1" height="459.1" fill="#ffffcc"/>
<line x1="1006.7" y1="587.4" x2="1006.7" y2="1046.5" stroke="#c4c4c4" stroke-width="1.3"/>
<line x1="1377.2" y1="587.4" x2="1377.2" y2="1046.5" stroke="#c0c0c6" stroke-width="1.8"/>
<g clip-path="url(#clipD)">
<path d="M996.8,992.8 L997.15,996.95 L997.5,990.47 L997.85,1000.45 L998.2,988.6 L998.55,1002.03 L998.9,987.9 L999.25,1003.08 L999.6,987.2 L999.95,1004.13 L1000.3,986.38 L1000.65,1005.28 L1001,985.4 L1001.35,1005.87 L1001.7,985.11 L1002.05,1004.31 L1002.4,986.56 L1002.75,1002.76 L1003.1,987.77 L1003.45,1001.52 L1003.8,987.6 L1004.15,1000.47 L1004.5,987.42 L1004.85,999.42 L1005.2,987.77 L1005.55,999.57 L1005.9,989.4 L1006.25,1000.03 L1006.6,990.69 L1006.95,999.2 L1007.3,989.91 L1007.65,997.64 L1008,989.13" fill="none" stroke="#ff0000" stroke-width="1.6" stroke-linejoin="round"/>
<path d="M1008.3,1005 C1008.32,987.5 1008.37,940.83 1008.4,900 C1008.43,859.17 1008.38,788.38 1008.5,760 C1008.62,731.62 1008.78,738.42 1009.1,729.7 C1009.42,720.98 1009.88,713.8 1010.4,707.7 C1010.92,701.6 1011.4,697.57 1012.2,693.1 C1013,688.63 1013.98,684.55 1015.2,680.9 C1016.42,677.25 1017.97,674.03 1019.5,671.2 C1021.03,668.37 1022.37,666.13 1024.4,663.9 C1026.43,661.67 1028.67,659.73 1031.7,657.8 C1034.73,655.87 1038.75,653.93 1042.6,652.3 C1046.45,650.67 1049.72,649.42 1054.8,648 C1059.88,646.58 1065.98,645.22 1073.1,643.8 C1080.22,642.38 1088.02,640.75 1097.5,639.5 C1106.98,638.25 1116.25,637.28 1130,636.3 C1143.75,635.32 1160.12,634.45 1180,633.6 C1199.88,632.75 1227.63,631.87 1249.3,631.2 C1270.97,630.53 1288.77,630.1 1310,629.6 C1331.23,629.1 1353.37,628.37 1376.7,628.2 C1400.03,628.03 1421.12,628.47 1450,628.6 C1478.88,628.73 1516.67,628.88 1550,629 C1583.33,629.12 1619.83,629.22 1650,629.3 C1680.17,629.38 1717.5,629.47 1731,629.5" fill="none" stroke="#ff0000" stroke-width="3" stroke-linejoin="round" stroke-linecap="round"/>
</g>
<rect x="996.6" y="587.4" width="736.1" height="459.1" fill="none" stroke="#000" stroke-width="3"/>
<line x1="996.6" y1="1046.6" x2="983.4" y2="1046.6" stroke="#000" stroke-width="2.8"/>
<line x1="996.6" y1="1031.24" x2="989.8" y2="1031.24" stroke="#000" stroke-width="2.2"/>
<line x1="996.6" y1="1022.25" x2="989.8" y2="1022.25" stroke="#000" stroke-width="2.2"/>
<line x1="996.6" y1="1015.88" x2="989.8" y2="1015.88" stroke="#000" stroke-width="2.2"/>
<line x1="996.6" y1="1010.93" x2="989.8" y2="1010.93" stroke="#000" stroke-width="2.2"/>
<line x1="996.6" y1="1006.89" x2="989.8" y2="1006.89" stroke="#000" stroke-width="2.2"/>
<line x1="996.6" y1="1003.47" x2="989.8" y2="1003.47" stroke="#000" stroke-width="2.2"/>
<line x1="996.6" y1="1000.52" x2="989.8" y2="1000.52" stroke="#000" stroke-width="2.2"/>
<line x1="996.6" y1="997.91" x2="989.8" y2="997.91" stroke="#000" stroke-width="2.2"/>
<line x1="996.6" y1="995.57" x2="983.4" y2="995.57" stroke="#000" stroke-width="2.8"/>
<line x1="996.6" y1="980.21" x2="989.8" y2="980.21" stroke="#000" stroke-width="2.2"/>
<line x1="996.6" y1="971.22" x2="989.8" y2="971.22" stroke="#000" stroke-width="2.2"/>
<line x1="996.6" y1="964.85" x2="989.8" y2="964.85" stroke="#000" stroke-width="2.2"/>
<line x1="996.6" y1="959.9" x2="989.8" y2="959.9" stroke="#000" stroke-width="2.2"/>
<line x1="996.6" y1="955.86" x2="989.8" y2="955.86" stroke="#000" stroke-width="2.2"/>
<line x1="996.6" y1="952.44" x2="989.8" y2="952.44" stroke="#000" stroke-width="2.2"/>
<line x1="996.6" y1="949.49" x2="989.8" y2="949.49" stroke="#000" stroke-width="2.2"/>
<line x1="996.6" y1="946.88" x2="989.8" y2="946.88" stroke="#000" stroke-width="2.2"/>
<line x1="996.6" y1="944.54" x2="983.4" y2="944.54" stroke="#000" stroke-width="2.8"/>
<line x1="996.6" y1="929.18" x2="989.8" y2="929.18" stroke="#000" stroke-width="2.2"/>
<line x1="996.6" y1="920.19" x2="989.8" y2="920.19" stroke="#000" stroke-width="2.2"/>
<line x1="996.6" y1="913.82" x2="989.8" y2="913.82" stroke="#000" stroke-width="2.2"/>
<line x1="996.6" y1="908.87" x2="989.8" y2="908.87" stroke="#000" stroke-width="2.2"/>
<line x1="996.6" y1="904.83" x2="989.8" y2="904.83" stroke="#000" stroke-width="2.2"/>
<line x1="996.6" y1="901.41" x2="989.8" y2="901.41" stroke="#000" stroke-width="2.2"/>
<line x1="996.6" y1="898.46" x2="989.8" y2="898.46" stroke="#000" stroke-width="2.2"/>
<line x1="996.6" y1="895.85" x2="989.8" y2="895.85" stroke="#000" stroke-width="2.2"/>
<line x1="996.6" y1="893.51" x2="983.4" y2="893.51" stroke="#000" stroke-width="2.8"/>
<line x1="996.6" y1="878.15" x2="989.8" y2="878.15" stroke="#000" stroke-width="2.2"/>
<line x1="996.6" y1="869.16" x2="989.8" y2="869.16" stroke="#000" stroke-width="2.2"/>
<line x1="996.6" y1="862.79" x2="989.8" y2="862.79" stroke="#000" stroke-width="2.2"/>
<line x1="996.6" y1="857.84" x2="989.8" y2="857.84" stroke="#000" stroke-width="2.2"/>
<line x1="996.6" y1="853.8" x2="989.8" y2="853.8" stroke="#000" stroke-width="2.2"/>
<line x1="996.6" y1="850.38" x2="989.8" y2="850.38" stroke="#000" stroke-width="2.2"/>
<line x1="996.6" y1="847.43" x2="989.8" y2="847.43" stroke="#000" stroke-width="2.2"/>
<line x1="996.6" y1="844.82" x2="989.8" y2="844.82" stroke="#000" stroke-width="2.2"/>
<line x1="996.6" y1="842.48" x2="983.4" y2="842.48" stroke="#000" stroke-width="2.8"/>
<line x1="996.6" y1="827.12" x2="989.8" y2="827.12" stroke="#000" stroke-width="2.2"/>
<line x1="996.6" y1="818.13" x2="989.8" y2="818.13" stroke="#000" stroke-width="2.2"/>
<line x1="996.6" y1="811.76" x2="989.8" y2="811.76" stroke="#000" stroke-width="2.2"/>
<line x1="996.6" y1="806.81" x2="989.8" y2="806.81" stroke="#000" stroke-width="2.2"/>
<line x1="996.6" y1="802.77" x2="989.8" y2="802.77" stroke="#000" stroke-width="2.2"/>
<line x1="996.6" y1="799.35" x2="989.8" y2="799.35" stroke="#000" stroke-width="2.2"/>
<line x1="996.6" y1="796.4" x2="989.8" y2="796.4" stroke="#000" stroke-width="2.2"/>
<line x1="996.6" y1="793.79" x2="989.8" y2="793.79" stroke="#000" stroke-width="2.2"/>
<line x1="996.6" y1="791.45" x2="983.4" y2="791.45" stroke="#000" stroke-width="2.8"/>
<line x1="996.6" y1="776.09" x2="989.8" y2="776.09" stroke="#000" stroke-width="2.2"/>
<line x1="996.6" y1="767.1" x2="989.8" y2="767.1" stroke="#000" stroke-width="2.2"/>
<line x1="996.6" y1="760.73" x2="989.8" y2="760.73" stroke="#000" stroke-width="2.2"/>
<line x1="996.6" y1="755.78" x2="989.8" y2="755.78" stroke="#000" stroke-width="2.2"/>
<line x1="996.6" y1="751.74" x2="989.8" y2="751.74" stroke="#000" stroke-width="2.2"/>
<line x1="996.6" y1="748.32" x2="989.8" y2="748.32" stroke="#000" stroke-width="2.2"/>
<line x1="996.6" y1="745.37" x2="989.8" y2="745.37" stroke="#000" stroke-width="2.2"/>
<line x1="996.6" y1="742.76" x2="989.8" y2="742.76" stroke="#000" stroke-width="2.2"/>
<line x1="996.6" y1="740.42" x2="983.4" y2="740.42" stroke="#000" stroke-width="2.8"/>
<line x1="996.6" y1="725.06" x2="989.8" y2="725.06" stroke="#000" stroke-width="2.2"/>
<line x1="996.6" y1="716.07" x2="989.8" y2="716.07" stroke="#000" stroke-width="2.2"/>
<line x1="996.6" y1="709.7" x2="989.8" y2="709.7" stroke="#000" stroke-width="2.2"/>
<line x1="996.6" y1="704.75" x2="989.8" y2="704.75" stroke="#000" stroke-width="2.2"/>
<line x1="996.6" y1="700.71" x2="989.8" y2="700.71" stroke="#000" stroke-width="2.2"/>
<line x1="996.6" y1="697.29" x2="989.8" y2="697.29" stroke="#000" stroke-width="2.2"/>
<line x1="996.6" y1="694.34" x2="989.8" y2="694.34" stroke="#000" stroke-width="2.2"/>
<line x1="996.6" y1="691.73" x2="989.8" y2="691.73" stroke="#000" stroke-width="2.2"/>
<line x1="996.6" y1="689.39" x2="983.4" y2="689.39" stroke="#000" stroke-width="2.8"/>
<line x1="996.6" y1="674.03" x2="989.8" y2="674.03" stroke="#000" stroke-width="2.2"/>
<line x1="996.6" y1="665.04" x2="989.8" y2="665.04" stroke="#000" stroke-width="2.2"/>
<line x1="996.6" y1="658.67" x2="989.8" y2="658.67" stroke="#000" stroke-width="2.2"/>
<line x1="996.6" y1="653.72" x2="989.8" y2="653.72" stroke="#000" stroke-width="2.2"/>
<line x1="996.6" y1="649.68" x2="989.8" y2="649.68" stroke="#000" stroke-width="2.2"/>
<line x1="996.6" y1="646.26" x2="989.8" y2="646.26" stroke="#000" stroke-width="2.2"/>
<line x1="996.6" y1="643.31" x2="989.8" y2="643.31" stroke="#000" stroke-width="2.2"/>
<line x1="996.6" y1="640.7" x2="989.8" y2="640.7" stroke="#000" stroke-width="2.2"/>
<line x1="996.6" y1="638.36" x2="983.4" y2="638.36" stroke="#000" stroke-width="2.8"/>
<line x1="996.6" y1="623" x2="989.8" y2="623" stroke="#000" stroke-width="2.2"/>
<line x1="996.6" y1="614.01" x2="989.8" y2="614.01" stroke="#000" stroke-width="2.2"/>
<line x1="996.6" y1="607.64" x2="989.8" y2="607.64" stroke="#000" stroke-width="2.2"/>
<line x1="996.6" y1="602.69" x2="989.8" y2="602.69" stroke="#000" stroke-width="2.2"/>
<line x1="996.6" y1="598.65" x2="989.8" y2="598.65" stroke="#000" stroke-width="2.2"/>
<line x1="996.6" y1="595.23" x2="989.8" y2="595.23" stroke="#000" stroke-width="2.2"/>
<line x1="996.6" y1="592.28" x2="989.8" y2="592.28" stroke="#000" stroke-width="2.2"/>
<line x1="996.6" y1="589.67" x2="989.8" y2="589.67" stroke="#000" stroke-width="2.2"/>
<line x1="996.6" y1="587.33" x2="983.4" y2="587.33" stroke="#000" stroke-width="2.8"/>
<text transform="translate(979.6 1059.7) scale(1 1.04)" font-size="35" fill="#000" text-anchor="end">10<tspan dy="-13.56" font-size="24">-12</tspan></text>
<text transform="translate(979.6 957.64) scale(1 1.04)" font-size="35" fill="#000" text-anchor="end">10<tspan dy="-13.56" font-size="24">-10</tspan></text>
<text transform="translate(979.6 855.58) scale(1 1.04)" font-size="35" fill="#000" text-anchor="end">10<tspan dy="-13.56" font-size="24">-8</tspan></text>
<text transform="translate(979.6 753.52) scale(1 1.04)" font-size="35" fill="#000" text-anchor="end">10<tspan dy="-13.56" font-size="24">-6</tspan></text>
<text transform="translate(979.6 651.46) scale(1 1.04)" font-size="35" fill="#000" text-anchor="end">10<tspan dy="-13.56" font-size="24">-4</tspan></text>
<line x1="996.6" y1="1046.5" x2="996.6" y2="1059.5" stroke="#000" stroke-width="2.8"/>
<text transform="translate(996.6 1094.2) scale(1 1.04)" font-size="35" fill="#000" text-anchor="middle" font-weight="normal">0</text>
<line x1="1058.28" y1="1046.5" x2="1058.28" y2="1053.3" stroke="#000" stroke-width="2.4"/>
<line x1="1119.96" y1="1046.5" x2="1119.96" y2="1059.5" stroke="#000" stroke-width="2.8"/>
<text transform="translate(1119.96 1094.2) scale(1 1.04)" font-size="35" fill="#000" text-anchor="middle" font-weight="normal">300</text>
<line x1="1181.64" y1="1046.5" x2="1181.64" y2="1053.3" stroke="#000" stroke-width="2.4"/>
<line x1="1243.32" y1="1046.5" x2="1243.32" y2="1059.5" stroke="#000" stroke-width="2.8"/>
<text transform="translate(1243.32 1094.2) scale(1 1.04)" font-size="35" fill="#000" text-anchor="middle" font-weight="normal">600</text>
<line x1="1305" y1="1046.5" x2="1305" y2="1053.3" stroke="#000" stroke-width="2.4"/>
<line x1="1366.68" y1="1046.5" x2="1366.68" y2="1059.5" stroke="#000" stroke-width="2.8"/>
<text transform="translate(1366.68 1094.2) scale(1 1.04)" font-size="35" fill="#000" text-anchor="middle" font-weight="normal">900</text>
<line x1="1428.36" y1="1046.5" x2="1428.36" y2="1053.3" stroke="#000" stroke-width="2.4"/>
<line x1="1490.04" y1="1046.5" x2="1490.04" y2="1059.5" stroke="#000" stroke-width="2.8"/>
<text transform="translate(1490.04 1094.2) scale(1 1.04)" font-size="35" fill="#000" text-anchor="middle" font-weight="normal">1200</text>
<line x1="1551.72" y1="1046.5" x2="1551.72" y2="1053.3" stroke="#000" stroke-width="2.4"/>
<line x1="1613.4" y1="1046.5" x2="1613.4" y2="1059.5" stroke="#000" stroke-width="2.8"/>
<text transform="translate(1613.4 1094.2) scale(1 1.04)" font-size="35" fill="#000" text-anchor="middle" font-weight="normal">1500</text>
<line x1="1675.08" y1="1046.5" x2="1675.08" y2="1053.3" stroke="#000" stroke-width="2.4"/>
<text transform="translate(1308.5 1137.8) scale(1 1.04)" font-size="42.3" fill="#000" text-anchor="start" font-weight="normal">Time(s)</text>
<text transform="translate(913.2 912.3) rotate(-90) scale(1 1.04)" font-size="42" fill="#000" text-anchor="start"><tspan dy="0" font-size="42">I</tspan><tspan dy="10.58" font-size="28">DS</tspan><tspan dy="-10.58" font-size="42">(A)</tspan></text>
<text transform="translate(1008.7 630.2) scale(1 1.04)" font-size="50" fill="#000" text-anchor="start" font-weight="bold">(d)</text>
<text transform="translate(1152.1 616.5) scale(1 1.04)" font-size="26" fill="#8000ff" text-anchor="start" font-weight="normal">UV ON</text>
<text transform="translate(1531.3 614.1) scale(1 1.04)" font-size="26" fill="#8000ff" text-anchor="start" font-weight="normal">UV OFF</text>
<text transform="translate(1056.7 723.8) scale(1 1.04)" font-size="29" fill="#000" text-anchor="start"><tspan dy="0" font-size="29">V</tspan><tspan dy="7.31" font-size="24">DS</tspan><tspan dy="-7.31" font-size="29"> 1V,&#160; V</tspan><tspan dy="7.31" font-size="24">GS</tspan><tspan dy="-7.31" font-size="29"> -11V</tspan></text>
<rect x="1376.6" y="676" width="356.1" height="284.9" fill="#fff"/>
<path d="M1378,701.9 L1715.5,724.5" fill="none" stroke="#ff0000" stroke-width="2.2" stroke-linejoin="round"/>
<line x1="1376.6" y1="960.8" x2="1365.6" y2="960.8" stroke="#000" stroke-width="2.2"/>
<line x1="1376.6" y1="951.29" x2="1371.6" y2="951.29" stroke="#000" stroke-width="1.8"/>
<line x1="1376.6" y1="945.73" x2="1371.6" y2="945.73" stroke="#000" stroke-width="1.8"/>
<line x1="1376.6" y1="941.78" x2="1371.6" y2="941.78" stroke="#000" stroke-width="1.8"/>
<line x1="1376.6" y1="938.72" x2="1371.6" y2="938.72" stroke="#000" stroke-width="1.8"/>
<line x1="1376.6" y1="936.22" x2="1371.6" y2="936.22" stroke="#000" stroke-width="1.8"/>
<line x1="1376.6" y1="934.1" x2="1371.6" y2="934.1" stroke="#000" stroke-width="1.8"/>
<line x1="1376.6" y1="932.27" x2="1371.6" y2="932.27" stroke="#000" stroke-width="1.8"/>
<line x1="1376.6" y1="930.66" x2="1371.6" y2="930.66" stroke="#000" stroke-width="1.8"/>
<line x1="1376.6" y1="929.21" x2="1365.6" y2="929.21" stroke="#000" stroke-width="2.2"/>
<line x1="1376.6" y1="919.7" x2="1371.6" y2="919.7" stroke="#000" stroke-width="1.8"/>
<line x1="1376.6" y1="914.14" x2="1371.6" y2="914.14" stroke="#000" stroke-width="1.8"/>
<line x1="1376.6" y1="910.19" x2="1371.6" y2="910.19" stroke="#000" stroke-width="1.8"/>
<line x1="1376.6" y1="907.13" x2="1371.6" y2="907.13" stroke="#000" stroke-width="1.8"/>
<line x1="1376.6" y1="904.63" x2="1371.6" y2="904.63" stroke="#000" stroke-width="1.8"/>
<line x1="1376.6" y1="902.51" x2="1371.6" y2="902.51" stroke="#000" stroke-width="1.8"/>
<line x1="1376.6" y1="900.68" x2="1371.6" y2="900.68" stroke="#000" stroke-width="1.8"/>
<line x1="1376.6" y1="899.07" x2="1371.6" y2="899.07" stroke="#000" stroke-width="1.8"/>
<line x1="1376.6" y1="897.62" x2="1365.6" y2="897.62" stroke="#000" stroke-width="2.2"/>
<line x1="1376.6" y1="888.11" x2="1371.6" y2="888.11" stroke="#000" stroke-width="1.8"/>
<line x1="1376.6" y1="882.55" x2="1371.6" y2="882.55" stroke="#000" stroke-width="1.8"/>
<line x1="1376.6" y1="878.6" x2="1371.6" y2="878.6" stroke="#000" stroke-width="1.8"/>
<line x1="1376.6" y1="875.54" x2="1371.6" y2="875.54" stroke="#000" stroke-width="1.8"/>
<line x1="1376.6" y1="873.04" x2="1371.6" y2="873.04" stroke="#000" stroke-width="1.8"/>
<line x1="1376.6" y1="870.92" x2="1371.6" y2="870.92" stroke="#000" stroke-width="1.8"/>
<line x1="1376.6" y1="869.09" x2="1371.6" y2="869.09" stroke="#000" stroke-width="1.8"/>
<line x1="1376.6" y1="867.48" x2="1371.6" y2="867.48" stroke="#000" stroke-width="1.8"/>
<line x1="1376.6" y1="866.03" x2="1365.6" y2="866.03" stroke="#000" stroke-width="2.2"/>
<line x1="1376.6" y1="856.52" x2="1371.6" y2="856.52" stroke="#000" stroke-width="1.8"/>
<line x1="1376.6" y1="850.96" x2="1371.6" y2="850.96" stroke="#000" stroke-width="1.8"/>
<line x1="1376.6" y1="847.01" x2="1371.6" y2="847.01" stroke="#000" stroke-width="1.8"/>
<line x1="1376.6" y1="843.95" x2="1371.6" y2="843.95" stroke="#000" stroke-width="1.8"/>
<line x1="1376.6" y1="841.45" x2="1371.6" y2="841.45" stroke="#000" stroke-width="1.8"/>
<line x1="1376.6" y1="839.33" x2="1371.6" y2="839.33" stroke="#000" stroke-width="1.8"/>
<line x1="1376.6" y1="837.5" x2="1371.6" y2="837.5" stroke="#000" stroke-width="1.8"/>
<line x1="1376.6" y1="835.89" x2="1371.6" y2="835.89" stroke="#000" stroke-width="1.8"/>
<line x1="1376.6" y1="834.44" x2="1365.6" y2="834.44" stroke="#000" stroke-width="2.2"/>
<line x1="1376.6" y1="824.93" x2="1371.6" y2="824.93" stroke="#000" stroke-width="1.8"/>
<line x1="1376.6" y1="819.37" x2="1371.6" y2="819.37" stroke="#000" stroke-width="1.8"/>
<line x1="1376.6" y1="815.42" x2="1371.6" y2="815.42" stroke="#000" stroke-width="1.8"/>
<line x1="1376.6" y1="812.36" x2="1371.6" y2="812.36" stroke="#000" stroke-width="1.8"/>
<line x1="1376.6" y1="809.86" x2="1371.6" y2="809.86" stroke="#000" stroke-width="1.8"/>
<line x1="1376.6" y1="807.74" x2="1371.6" y2="807.74" stroke="#000" stroke-width="1.8"/>
<line x1="1376.6" y1="805.91" x2="1371.6" y2="805.91" stroke="#000" stroke-width="1.8"/>
<line x1="1376.6" y1="804.3" x2="1371.6" y2="804.3" stroke="#000" stroke-width="1.8"/>
<line x1="1376.6" y1="802.85" x2="1365.6" y2="802.85" stroke="#000" stroke-width="2.2"/>
<line x1="1376.6" y1="793.34" x2="1371.6" y2="793.34" stroke="#000" stroke-width="1.8"/>
<line x1="1376.6" y1="787.78" x2="1371.6" y2="787.78" stroke="#000" stroke-width="1.8"/>
<line x1="1376.6" y1="783.83" x2="1371.6" y2="783.83" stroke="#000" stroke-width="1.8"/>
<line x1="1376.6" y1="780.77" x2="1371.6" y2="780.77" stroke="#000" stroke-width="1.8"/>
<line x1="1376.6" y1="778.27" x2="1371.6" y2="778.27" stroke="#000" stroke-width="1.8"/>
<line x1="1376.6" y1="776.15" x2="1371.6" y2="776.15" stroke="#000" stroke-width="1.8"/>
<line x1="1376.6" y1="774.32" x2="1371.6" y2="774.32" stroke="#000" stroke-width="1.8"/>
<line x1="1376.6" y1="772.71" x2="1371.6" y2="772.71" stroke="#000" stroke-width="1.8"/>
<line x1="1376.6" y1="771.26" x2="1365.6" y2="771.26" stroke="#000" stroke-width="2.2"/>
<line x1="1376.6" y1="761.75" x2="1371.6" y2="761.75" stroke="#000" stroke-width="1.8"/>
<line x1="1376.6" y1="756.19" x2="1371.6" y2="756.19" stroke="#000" stroke-width="1.8"/>
<line x1="1376.6" y1="752.24" x2="1371.6" y2="752.24" stroke="#000" stroke-width="1.8"/>
<line x1="1376.6" y1="749.18" x2="1371.6" y2="749.18" stroke="#000" stroke-width="1.8"/>
<line x1="1376.6" y1="746.68" x2="1371.6" y2="746.68" stroke="#000" stroke-width="1.8"/>
<line x1="1376.6" y1="744.56" x2="1371.6" y2="744.56" stroke="#000" stroke-width="1.8"/>
<line x1="1376.6" y1="742.73" x2="1371.6" y2="742.73" stroke="#000" stroke-width="1.8"/>
<line x1="1376.6" y1="741.12" x2="1371.6" y2="741.12" stroke="#000" stroke-width="1.8"/>
<line x1="1376.6" y1="739.67" x2="1365.6" y2="739.67" stroke="#000" stroke-width="2.2"/>
<line x1="1376.6" y1="730.16" x2="1371.6" y2="730.16" stroke="#000" stroke-width="1.8"/>
<line x1="1376.6" y1="724.6" x2="1371.6" y2="724.6" stroke="#000" stroke-width="1.8"/>
<line x1="1376.6" y1="720.65" x2="1371.6" y2="720.65" stroke="#000" stroke-width="1.8"/>
<line x1="1376.6" y1="717.59" x2="1371.6" y2="717.59" stroke="#000" stroke-width="1.8"/>
<line x1="1376.6" y1="715.09" x2="1371.6" y2="715.09" stroke="#000" stroke-width="1.8"/>
<line x1="1376.6" y1="712.97" x2="1371.6" y2="712.97" stroke="#000" stroke-width="1.8"/>
<line x1="1376.6" y1="711.14" x2="1371.6" y2="711.14" stroke="#000" stroke-width="1.8"/>
<line x1="1376.6" y1="709.53" x2="1371.6" y2="709.53" stroke="#000" stroke-width="1.8"/>
<line x1="1376.6" y1="708.08" x2="1365.6" y2="708.08" stroke="#000" stroke-width="2.2"/>
<line x1="1376.6" y1="698.57" x2="1371.6" y2="698.57" stroke="#000" stroke-width="1.8"/>
<line x1="1376.6" y1="693.01" x2="1371.6" y2="693.01" stroke="#000" stroke-width="1.8"/>
<line x1="1376.6" y1="689.06" x2="1371.6" y2="689.06" stroke="#000" stroke-width="1.8"/>
<line x1="1376.6" y1="686" x2="1371.6" y2="686" stroke="#000" stroke-width="1.8"/>
<line x1="1376.6" y1="683.5" x2="1371.6" y2="683.5" stroke="#000" stroke-width="1.8"/>
<line x1="1376.6" y1="681.38" x2="1371.6" y2="681.38" stroke="#000" stroke-width="1.8"/>
<line x1="1376.6" y1="679.55" x2="1371.6" y2="679.55" stroke="#000" stroke-width="1.8"/>
<line x1="1376.6" y1="677.94" x2="1371.6" y2="677.94" stroke="#000" stroke-width="1.8"/>
<line x1="1376.6" y1="676.49" x2="1365.6" y2="676.49" stroke="#000" stroke-width="2.2"/>
<text transform="translate(1359.2 972.4) scale(1 1.04)" font-size="31" fill="#ff0000" text-anchor="end">10<tspan dy="-11.92" font-size="21">-12</tspan></text>
<text transform="translate(1359.2 909.22) scale(1 1.04)" font-size="31" fill="#ff0000" text-anchor="end">10<tspan dy="-11.92" font-size="21">-10</tspan></text>
<text transform="translate(1359.2 846.04) scale(1 1.04)" font-size="31" fill="#ff0000" text-anchor="end">10<tspan dy="-11.92" font-size="21">-8</tspan></text>
<text transform="translate(1359.2 782.86) scale(1 1.04)" font-size="31" fill="#ff0000" text-anchor="end">10<tspan dy="-11.92" font-size="21">-6</tspan></text>
<text transform="translate(1359.2 719.68) scale(1 1.04)" font-size="31" fill="#ff0000" text-anchor="end">10<tspan dy="-11.92" font-size="21">-4</tspan></text>
<line x1="1376.6" y1="960.9" x2="1376.6" y2="971.9" stroke="#000" stroke-width="2.2"/>
<text transform="translate(1376.6 1001) scale(1 1.04)" font-size="31" fill="#ff0000" text-anchor="middle" font-weight="normal">0</text>
<line x1="1410.45" y1="960.9" x2="1410.45" y2="966.4" stroke="#000" stroke-width="2.2"/>
<line x1="1444.3" y1="960.9" x2="1444.3" y2="971.9" stroke="#000" stroke-width="2.2"/>
<text transform="translate(1444.3 1001) scale(1 1.04)" font-size="31" fill="#ff0000" text-anchor="middle" font-weight="normal">10</text>
<line x1="1478.15" y1="960.9" x2="1478.15" y2="966.4" stroke="#000" stroke-width="2.2"/>
<line x1="1512" y1="960.9" x2="1512" y2="971.9" stroke="#000" stroke-width="2.2"/>
<text transform="translate(1512 1001) scale(1 1.04)" font-size="31" fill="#ff0000" text-anchor="middle" font-weight="normal">20</text>
<line x1="1545.85" y1="960.9" x2="1545.85" y2="966.4" stroke="#000" stroke-width="2.2"/>
<line x1="1579.7" y1="960.9" x2="1579.7" y2="971.9" stroke="#000" stroke-width="2.2"/>
<text transform="translate(1579.7 1001) scale(1 1.04)" font-size="31" fill="#ff0000" text-anchor="middle" font-weight="normal">30</text>
<line x1="1613.55" y1="960.9" x2="1613.55" y2="966.4" stroke="#000" stroke-width="2.2"/>
<line x1="1647.4" y1="960.9" x2="1647.4" y2="971.9" stroke="#000" stroke-width="2.2"/>
<text transform="translate(1647.4 1001) scale(1 1.04)" font-size="31" fill="#ff0000" text-anchor="middle" font-weight="normal">40</text>
<line x1="1681.25" y1="960.9" x2="1681.25" y2="966.4" stroke="#000" stroke-width="2.2"/>
<line x1="1715.1" y1="960.9" x2="1715.1" y2="971.9" stroke="#000" stroke-width="2.2"/>
<text transform="translate(1715.1 1001) scale(1 1.04)" font-size="31" fill="#ff0000" text-anchor="middle" font-weight="normal">50</text>
<rect x="1376.6" y="676" width="356.1" height="284.9" fill="none" stroke="#000" stroke-width="2.4"/>
<text transform="translate(1482 1029.1) scale(1 1.04)" font-size="33.2" fill="#ff0000" text-anchor="start" font-weight="normal">Time(hour)</text>
<text transform="translate(1292.9 868.5) rotate(-90) scale(1 1.04)" font-size="31.6" fill="#ff0000" text-anchor="start"><tspan dy="0" font-size="31.6">I</tspan><tspan dy="7.21" font-size="21">DS</tspan><tspan dy="-7.21" font-size="31.6">(A)</tspan></text>
</svg></body></html>
